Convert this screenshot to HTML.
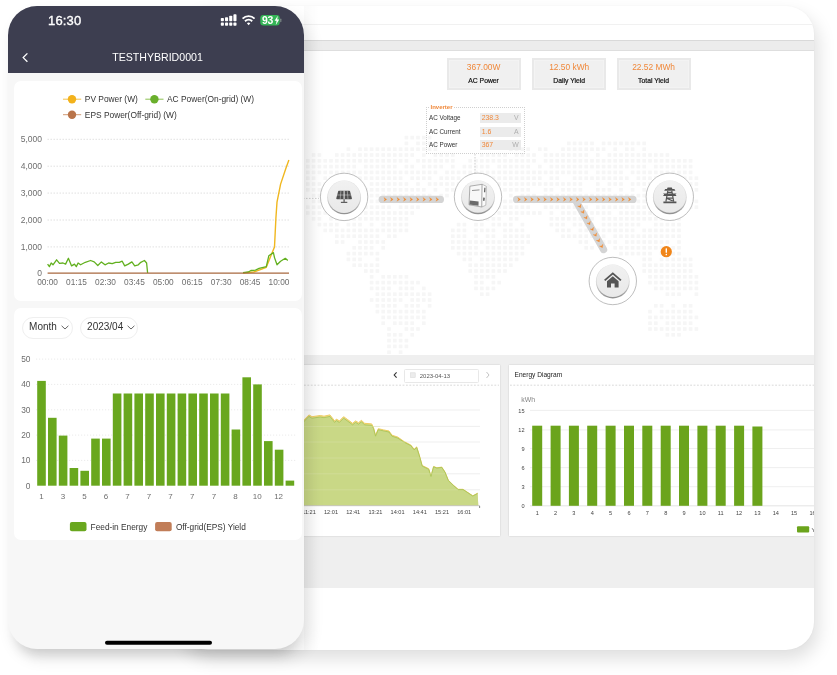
<!DOCTYPE html>
<html><head><meta charset="utf-8"><title>TESTHYBRID0001</title>
<style>
html,body{margin:0;padding:0;background:#fff;}
body{width:837px;height:675px;position:relative;overflow:hidden;font-family:"Liberation Sans",Arial,sans-serif;}
.abs{position:absolute;}
#desk{position:absolute;left:180px;top:6px;width:634px;height:644px;border-radius:28px;background:#fff;box-shadow:4px 9px 18px rgba(0,0,0,.13),0 0 2px rgba(0,0,0,.04);overflow:hidden;}
#desk .in{position:absolute;left:-180px;top:-6px;width:837px;height:675px;}
#phone{position:absolute;left:8px;top:6px;width:296px;height:643px;border-radius:29px;background:#f7f7f7;box-shadow:5px 9px 16px rgba(0,0,0,.11),0 14px 12px -9px rgba(0,0,0,.12);overflow:hidden;}
#phone .in{position:absolute;left:-8px;top:-6px;width:837px;height:675px;}
.card{position:absolute;background:#fff;border-radius:7px;}
.pill{position:absolute;height:20px;border:1px solid #efefef;border-radius:11px;background:#fff;font-size:10px;color:#333;line-height:18.4px;box-sizing:content-box;}
.stat{position:absolute;top:57.5px;width:74px;height:32.3px;background:#f0f0f0;box-shadow:inset 0 0 0 2px #e9e9e9,inset 0 0 0 2.6px #f6f6f6;text-align:center;}
.stat b{display:block;font-weight:normal;color:#f0883a;font-size:8.4px;line-height:9px;margin-top:5.2px;}
.stat span{display:block;color:#111;font-size:6.8px;line-height:8px;margin-top:5.7px;-webkit-text-stroke:0.2px #111;}
.row{position:absolute;left:429px;font-size:6.3px;color:#333;line-height:10px;}
.vb{position:absolute;left:479.5px;width:41px;height:10px;background:#ebebeb;font-size:6px;line-height:10px;color:#f0883a;}
.vb i{position:absolute;right:1.8px;top:0;font-style:normal;color:#aeaeae;font-size:6.9px;}
.vb em{font-style:normal;margin-left:2.2px;font-size:6.9px;}
</style></head><body>

<div id="desk"><div class="in">
  <div class="abs" style="left:0;top:24px;width:837px;height:1px;background:#f1f1f1"></div>
  <div class="abs" style="left:0;top:40px;width:837px;height:11px;background:#ececec;border-top:1.5px solid #d9d9d9;border-bottom:1px solid #dedede;box-sizing:border-box"></div>
  <svg class="abs" style="left:0;top:0" width="837" height="675" viewBox="0 0 837 675"><g fill="#f6f6f6"><rect x="404.6" y="135.8" width="3.6" height="3.6"/><rect x="410.4" y="135.8" width="3.6" height="3.6"/><rect x="416.2" y="135.8" width="3.6" height="3.6"/><rect x="422.0" y="135.8" width="3.6" height="3.6"/><rect x="427.8" y="135.8" width="3.6" height="3.6"/><rect x="404.6" y="141.6" width="3.6" height="3.6"/><rect x="416.2" y="141.6" width="3.6" height="3.6"/><rect x="422.0" y="141.6" width="3.6" height="3.6"/><rect x="427.8" y="141.6" width="3.6" height="3.6"/><rect x="433.6" y="141.6" width="3.6" height="3.6"/><rect x="567.0" y="141.6" width="3.6" height="3.6"/><rect x="572.8" y="141.6" width="3.6" height="3.6"/><rect x="578.6" y="141.6" width="3.6" height="3.6"/><rect x="584.4" y="141.6" width="3.6" height="3.6"/><rect x="590.2" y="141.6" width="3.6" height="3.6"/><rect x="601.8" y="141.6" width="3.6" height="3.6"/><rect x="607.6" y="141.6" width="3.6" height="3.6"/><rect x="613.4" y="141.6" width="3.6" height="3.6"/><rect x="619.2" y="141.6" width="3.6" height="3.6"/><rect x="625.0" y="141.6" width="3.6" height="3.6"/><rect x="630.8" y="141.6" width="3.6" height="3.6"/><rect x="636.6" y="141.6" width="3.6" height="3.6"/><rect x="642.4" y="141.6" width="3.6" height="3.6"/><rect x="346.6" y="147.4" width="3.6" height="3.6"/><rect x="358.2" y="147.4" width="3.6" height="3.6"/><rect x="364.0" y="147.4" width="3.6" height="3.6"/><rect x="369.8" y="147.4" width="3.6" height="3.6"/><rect x="375.6" y="147.4" width="3.6" height="3.6"/><rect x="381.4" y="147.4" width="3.6" height="3.6"/><rect x="387.2" y="147.4" width="3.6" height="3.6"/><rect x="393.0" y="147.4" width="3.6" height="3.6"/><rect x="398.8" y="147.4" width="3.6" height="3.6"/><rect x="404.6" y="147.4" width="3.6" height="3.6"/><rect x="410.4" y="147.4" width="3.6" height="3.6"/><rect x="416.2" y="147.4" width="3.6" height="3.6"/><rect x="422.0" y="147.4" width="3.6" height="3.6"/><rect x="427.8" y="147.4" width="3.6" height="3.6"/><rect x="433.6" y="147.4" width="3.6" height="3.6"/><rect x="509.0" y="147.4" width="3.6" height="3.6"/><rect x="514.8" y="147.4" width="3.6" height="3.6"/><rect x="520.6" y="147.4" width="3.6" height="3.6"/><rect x="526.4" y="147.4" width="3.6" height="3.6"/><rect x="538.0" y="147.4" width="3.6" height="3.6"/><rect x="543.8" y="147.4" width="3.6" height="3.6"/><rect x="561.2" y="147.4" width="3.6" height="3.6"/><rect x="567.0" y="147.4" width="3.6" height="3.6"/><rect x="572.8" y="147.4" width="3.6" height="3.6"/><rect x="578.6" y="147.4" width="3.6" height="3.6"/><rect x="584.4" y="147.4" width="3.6" height="3.6"/><rect x="590.2" y="147.4" width="3.6" height="3.6"/><rect x="596.0" y="147.4" width="3.6" height="3.6"/><rect x="601.8" y="147.4" width="3.6" height="3.6"/><rect x="613.4" y="147.4" width="3.6" height="3.6"/><rect x="625.0" y="147.4" width="3.6" height="3.6"/><rect x="630.8" y="147.4" width="3.6" height="3.6"/><rect x="642.4" y="147.4" width="3.6" height="3.6"/><rect x="311.8" y="153.2" width="3.6" height="3.6"/><rect x="317.6" y="153.2" width="3.6" height="3.6"/><rect x="335.0" y="153.2" width="3.6" height="3.6"/><rect x="340.8" y="153.2" width="3.6" height="3.6"/><rect x="346.6" y="153.2" width="3.6" height="3.6"/><rect x="352.4" y="153.2" width="3.6" height="3.6"/><rect x="358.2" y="153.2" width="3.6" height="3.6"/><rect x="364.0" y="153.2" width="3.6" height="3.6"/><rect x="369.8" y="153.2" width="3.6" height="3.6"/><rect x="375.6" y="153.2" width="3.6" height="3.6"/><rect x="381.4" y="153.2" width="3.6" height="3.6"/><rect x="387.2" y="153.2" width="3.6" height="3.6"/><rect x="393.0" y="153.2" width="3.6" height="3.6"/><rect x="398.8" y="153.2" width="3.6" height="3.6"/><rect x="404.6" y="153.2" width="3.6" height="3.6"/><rect x="410.4" y="153.2" width="3.6" height="3.6"/><rect x="422.0" y="153.2" width="3.6" height="3.6"/><rect x="433.6" y="153.2" width="3.6" height="3.6"/><rect x="439.4" y="153.2" width="3.6" height="3.6"/><rect x="445.2" y="153.2" width="3.6" height="3.6"/><rect x="451.0" y="153.2" width="3.6" height="3.6"/><rect x="480.0" y="153.2" width="3.6" height="3.6"/><rect x="485.8" y="153.2" width="3.6" height="3.6"/><rect x="491.6" y="153.2" width="3.6" height="3.6"/><rect x="497.4" y="153.2" width="3.6" height="3.6"/><rect x="503.2" y="153.2" width="3.6" height="3.6"/><rect x="514.8" y="153.2" width="3.6" height="3.6"/><rect x="520.6" y="153.2" width="3.6" height="3.6"/><rect x="526.4" y="153.2" width="3.6" height="3.6"/><rect x="532.2" y="153.2" width="3.6" height="3.6"/><rect x="543.8" y="153.2" width="3.6" height="3.6"/><rect x="549.6" y="153.2" width="3.6" height="3.6"/><rect x="555.4" y="153.2" width="3.6" height="3.6"/><rect x="561.2" y="153.2" width="3.6" height="3.6"/><rect x="567.0" y="153.2" width="3.6" height="3.6"/><rect x="572.8" y="153.2" width="3.6" height="3.6"/><rect x="578.6" y="153.2" width="3.6" height="3.6"/><rect x="584.4" y="153.2" width="3.6" height="3.6"/><rect x="596.0" y="153.2" width="3.6" height="3.6"/><rect x="607.6" y="153.2" width="3.6" height="3.6"/><rect x="613.4" y="153.2" width="3.6" height="3.6"/><rect x="619.2" y="153.2" width="3.6" height="3.6"/><rect x="625.0" y="153.2" width="3.6" height="3.6"/><rect x="630.8" y="153.2" width="3.6" height="3.6"/><rect x="636.6" y="153.2" width="3.6" height="3.6"/><rect x="642.4" y="153.2" width="3.6" height="3.6"/><rect x="648.2" y="153.2" width="3.6" height="3.6"/><rect x="654.0" y="153.2" width="3.6" height="3.6"/><rect x="659.8" y="153.2" width="3.6" height="3.6"/><rect x="665.6" y="153.2" width="3.6" height="3.6"/><rect x="306.0" y="159.0" width="3.6" height="3.6"/><rect x="311.8" y="159.0" width="3.6" height="3.6"/><rect x="317.6" y="159.0" width="3.6" height="3.6"/><rect x="323.4" y="159.0" width="3.6" height="3.6"/><rect x="329.2" y="159.0" width="3.6" height="3.6"/><rect x="335.0" y="159.0" width="3.6" height="3.6"/><rect x="340.8" y="159.0" width="3.6" height="3.6"/><rect x="346.6" y="159.0" width="3.6" height="3.6"/><rect x="352.4" y="159.0" width="3.6" height="3.6"/><rect x="358.2" y="159.0" width="3.6" height="3.6"/><rect x="364.0" y="159.0" width="3.6" height="3.6"/><rect x="369.8" y="159.0" width="3.6" height="3.6"/><rect x="375.6" y="159.0" width="3.6" height="3.6"/><rect x="381.4" y="159.0" width="3.6" height="3.6"/><rect x="387.2" y="159.0" width="3.6" height="3.6"/><rect x="393.0" y="159.0" width="3.6" height="3.6"/><rect x="398.8" y="159.0" width="3.6" height="3.6"/><rect x="404.6" y="159.0" width="3.6" height="3.6"/><rect x="416.2" y="159.0" width="3.6" height="3.6"/><rect x="422.0" y="159.0" width="3.6" height="3.6"/><rect x="427.8" y="159.0" width="3.6" height="3.6"/><rect x="433.6" y="159.0" width="3.6" height="3.6"/><rect x="439.4" y="159.0" width="3.6" height="3.6"/><rect x="445.2" y="159.0" width="3.6" height="3.6"/><rect x="451.0" y="159.0" width="3.6" height="3.6"/><rect x="468.4" y="159.0" width="3.6" height="3.6"/><rect x="474.2" y="159.0" width="3.6" height="3.6"/><rect x="480.0" y="159.0" width="3.6" height="3.6"/><rect x="485.8" y="159.0" width="3.6" height="3.6"/><rect x="491.6" y="159.0" width="3.6" height="3.6"/><rect x="497.4" y="159.0" width="3.6" height="3.6"/><rect x="503.2" y="159.0" width="3.6" height="3.6"/><rect x="509.0" y="159.0" width="3.6" height="3.6"/><rect x="514.8" y="159.0" width="3.6" height="3.6"/><rect x="520.6" y="159.0" width="3.6" height="3.6"/><rect x="526.4" y="159.0" width="3.6" height="3.6"/><rect x="532.2" y="159.0" width="3.6" height="3.6"/><rect x="543.8" y="159.0" width="3.6" height="3.6"/><rect x="549.6" y="159.0" width="3.6" height="3.6"/><rect x="555.4" y="159.0" width="3.6" height="3.6"/><rect x="561.2" y="159.0" width="3.6" height="3.6"/><rect x="567.0" y="159.0" width="3.6" height="3.6"/><rect x="572.8" y="159.0" width="3.6" height="3.6"/><rect x="578.6" y="159.0" width="3.6" height="3.6"/><rect x="584.4" y="159.0" width="3.6" height="3.6"/><rect x="590.2" y="159.0" width="3.6" height="3.6"/><rect x="596.0" y="159.0" width="3.6" height="3.6"/><rect x="601.8" y="159.0" width="3.6" height="3.6"/><rect x="607.6" y="159.0" width="3.6" height="3.6"/><rect x="613.4" y="159.0" width="3.6" height="3.6"/><rect x="619.2" y="159.0" width="3.6" height="3.6"/><rect x="625.0" y="159.0" width="3.6" height="3.6"/><rect x="630.8" y="159.0" width="3.6" height="3.6"/><rect x="636.6" y="159.0" width="3.6" height="3.6"/><rect x="642.4" y="159.0" width="3.6" height="3.6"/><rect x="648.2" y="159.0" width="3.6" height="3.6"/><rect x="654.0" y="159.0" width="3.6" height="3.6"/><rect x="659.8" y="159.0" width="3.6" height="3.6"/><rect x="665.6" y="159.0" width="3.6" height="3.6"/><rect x="671.4" y="159.0" width="3.6" height="3.6"/><rect x="677.2" y="159.0" width="3.6" height="3.6"/><rect x="683.0" y="159.0" width="3.6" height="3.6"/><rect x="688.8" y="159.0" width="3.6" height="3.6"/><rect x="306.0" y="164.8" width="3.6" height="3.6"/><rect x="311.8" y="164.8" width="3.6" height="3.6"/><rect x="317.6" y="164.8" width="3.6" height="3.6"/><rect x="323.4" y="164.8" width="3.6" height="3.6"/><rect x="329.2" y="164.8" width="3.6" height="3.6"/><rect x="335.0" y="164.8" width="3.6" height="3.6"/><rect x="340.8" y="164.8" width="3.6" height="3.6"/><rect x="346.6" y="164.8" width="3.6" height="3.6"/><rect x="352.4" y="164.8" width="3.6" height="3.6"/><rect x="364.0" y="164.8" width="3.6" height="3.6"/><rect x="369.8" y="164.8" width="3.6" height="3.6"/><rect x="375.6" y="164.8" width="3.6" height="3.6"/><rect x="381.4" y="164.8" width="3.6" height="3.6"/><rect x="387.2" y="164.8" width="3.6" height="3.6"/><rect x="393.0" y="164.8" width="3.6" height="3.6"/><rect x="404.6" y="164.8" width="3.6" height="3.6"/><rect x="410.4" y="164.8" width="3.6" height="3.6"/><rect x="422.0" y="164.8" width="3.6" height="3.6"/><rect x="427.8" y="164.8" width="3.6" height="3.6"/><rect x="433.6" y="164.8" width="3.6" height="3.6"/><rect x="439.4" y="164.8" width="3.6" height="3.6"/><rect x="451.0" y="164.8" width="3.6" height="3.6"/><rect x="462.6" y="164.8" width="3.6" height="3.6"/><rect x="468.4" y="164.8" width="3.6" height="3.6"/><rect x="474.2" y="164.8" width="3.6" height="3.6"/><rect x="480.0" y="164.8" width="3.6" height="3.6"/><rect x="485.8" y="164.8" width="3.6" height="3.6"/><rect x="497.4" y="164.8" width="3.6" height="3.6"/><rect x="503.2" y="164.8" width="3.6" height="3.6"/><rect x="509.0" y="164.8" width="3.6" height="3.6"/><rect x="514.8" y="164.8" width="3.6" height="3.6"/><rect x="520.6" y="164.8" width="3.6" height="3.6"/><rect x="526.4" y="164.8" width="3.6" height="3.6"/><rect x="538.0" y="164.8" width="3.6" height="3.6"/><rect x="549.6" y="164.8" width="3.6" height="3.6"/><rect x="555.4" y="164.8" width="3.6" height="3.6"/><rect x="561.2" y="164.8" width="3.6" height="3.6"/><rect x="567.0" y="164.8" width="3.6" height="3.6"/><rect x="572.8" y="164.8" width="3.6" height="3.6"/><rect x="578.6" y="164.8" width="3.6" height="3.6"/><rect x="584.4" y="164.8" width="3.6" height="3.6"/><rect x="590.2" y="164.8" width="3.6" height="3.6"/><rect x="596.0" y="164.8" width="3.6" height="3.6"/><rect x="601.8" y="164.8" width="3.6" height="3.6"/><rect x="607.6" y="164.8" width="3.6" height="3.6"/><rect x="613.4" y="164.8" width="3.6" height="3.6"/><rect x="619.2" y="164.8" width="3.6" height="3.6"/><rect x="625.0" y="164.8" width="3.6" height="3.6"/><rect x="630.8" y="164.8" width="3.6" height="3.6"/><rect x="636.6" y="164.8" width="3.6" height="3.6"/><rect x="642.4" y="164.8" width="3.6" height="3.6"/><rect x="654.0" y="164.8" width="3.6" height="3.6"/><rect x="659.8" y="164.8" width="3.6" height="3.6"/><rect x="665.6" y="164.8" width="3.6" height="3.6"/><rect x="671.4" y="164.8" width="3.6" height="3.6"/><rect x="677.2" y="164.8" width="3.6" height="3.6"/><rect x="683.0" y="164.8" width="3.6" height="3.6"/><rect x="688.8" y="164.8" width="3.6" height="3.6"/><rect x="306.0" y="170.6" width="3.6" height="3.6"/><rect x="311.8" y="170.6" width="3.6" height="3.6"/><rect x="317.6" y="170.6" width="3.6" height="3.6"/><rect x="323.4" y="170.6" width="3.6" height="3.6"/><rect x="329.2" y="170.6" width="3.6" height="3.6"/><rect x="335.0" y="170.6" width="3.6" height="3.6"/><rect x="340.8" y="170.6" width="3.6" height="3.6"/><rect x="346.6" y="170.6" width="3.6" height="3.6"/><rect x="352.4" y="170.6" width="3.6" height="3.6"/><rect x="358.2" y="170.6" width="3.6" height="3.6"/><rect x="364.0" y="170.6" width="3.6" height="3.6"/><rect x="369.8" y="170.6" width="3.6" height="3.6"/><rect x="375.6" y="170.6" width="3.6" height="3.6"/><rect x="381.4" y="170.6" width="3.6" height="3.6"/><rect x="387.2" y="170.6" width="3.6" height="3.6"/><rect x="393.0" y="170.6" width="3.6" height="3.6"/><rect x="398.8" y="170.6" width="3.6" height="3.6"/><rect x="404.6" y="170.6" width="3.6" height="3.6"/><rect x="410.4" y="170.6" width="3.6" height="3.6"/><rect x="416.2" y="170.6" width="3.6" height="3.6"/><rect x="422.0" y="170.6" width="3.6" height="3.6"/><rect x="427.8" y="170.6" width="3.6" height="3.6"/><rect x="433.6" y="170.6" width="3.6" height="3.6"/><rect x="445.2" y="170.6" width="3.6" height="3.6"/><rect x="451.0" y="170.6" width="3.6" height="3.6"/><rect x="456.8" y="170.6" width="3.6" height="3.6"/><rect x="462.6" y="170.6" width="3.6" height="3.6"/><rect x="468.4" y="170.6" width="3.6" height="3.6"/><rect x="474.2" y="170.6" width="3.6" height="3.6"/><rect x="480.0" y="170.6" width="3.6" height="3.6"/><rect x="485.8" y="170.6" width="3.6" height="3.6"/><rect x="491.6" y="170.6" width="3.6" height="3.6"/><rect x="497.4" y="170.6" width="3.6" height="3.6"/><rect x="503.2" y="170.6" width="3.6" height="3.6"/><rect x="509.0" y="170.6" width="3.6" height="3.6"/><rect x="514.8" y="170.6" width="3.6" height="3.6"/><rect x="520.6" y="170.6" width="3.6" height="3.6"/><rect x="526.4" y="170.6" width="3.6" height="3.6"/><rect x="532.2" y="170.6" width="3.6" height="3.6"/><rect x="538.0" y="170.6" width="3.6" height="3.6"/><rect x="543.8" y="170.6" width="3.6" height="3.6"/><rect x="549.6" y="170.6" width="3.6" height="3.6"/><rect x="555.4" y="170.6" width="3.6" height="3.6"/><rect x="561.2" y="170.6" width="3.6" height="3.6"/><rect x="567.0" y="170.6" width="3.6" height="3.6"/><rect x="572.8" y="170.6" width="3.6" height="3.6"/><rect x="578.6" y="170.6" width="3.6" height="3.6"/><rect x="584.4" y="170.6" width="3.6" height="3.6"/><rect x="596.0" y="170.6" width="3.6" height="3.6"/><rect x="601.8" y="170.6" width="3.6" height="3.6"/><rect x="607.6" y="170.6" width="3.6" height="3.6"/><rect x="613.4" y="170.6" width="3.6" height="3.6"/><rect x="619.2" y="170.6" width="3.6" height="3.6"/><rect x="630.8" y="170.6" width="3.6" height="3.6"/><rect x="636.6" y="170.6" width="3.6" height="3.6"/><rect x="642.4" y="170.6" width="3.6" height="3.6"/><rect x="648.2" y="170.6" width="3.6" height="3.6"/><rect x="654.0" y="170.6" width="3.6" height="3.6"/><rect x="659.8" y="170.6" width="3.6" height="3.6"/><rect x="665.6" y="170.6" width="3.6" height="3.6"/><rect x="671.4" y="170.6" width="3.6" height="3.6"/><rect x="677.2" y="170.6" width="3.6" height="3.6"/><rect x="683.0" y="170.6" width="3.6" height="3.6"/><rect x="688.8" y="170.6" width="3.6" height="3.6"/><rect x="306.0" y="176.4" width="3.6" height="3.6"/><rect x="311.8" y="176.4" width="3.6" height="3.6"/><rect x="323.4" y="176.4" width="3.6" height="3.6"/><rect x="329.2" y="176.4" width="3.6" height="3.6"/><rect x="335.0" y="176.4" width="3.6" height="3.6"/><rect x="340.8" y="176.4" width="3.6" height="3.6"/><rect x="346.6" y="176.4" width="3.6" height="3.6"/><rect x="352.4" y="176.4" width="3.6" height="3.6"/><rect x="358.2" y="176.4" width="3.6" height="3.6"/><rect x="364.0" y="176.4" width="3.6" height="3.6"/><rect x="369.8" y="176.4" width="3.6" height="3.6"/><rect x="375.6" y="176.4" width="3.6" height="3.6"/><rect x="381.4" y="176.4" width="3.6" height="3.6"/><rect x="387.2" y="176.4" width="3.6" height="3.6"/><rect x="393.0" y="176.4" width="3.6" height="3.6"/><rect x="398.8" y="176.4" width="3.6" height="3.6"/><rect x="410.4" y="176.4" width="3.6" height="3.6"/><rect x="416.2" y="176.4" width="3.6" height="3.6"/><rect x="422.0" y="176.4" width="3.6" height="3.6"/><rect x="427.8" y="176.4" width="3.6" height="3.6"/><rect x="439.4" y="176.4" width="3.6" height="3.6"/><rect x="445.2" y="176.4" width="3.6" height="3.6"/><rect x="451.0" y="176.4" width="3.6" height="3.6"/><rect x="456.8" y="176.4" width="3.6" height="3.6"/><rect x="468.4" y="176.4" width="3.6" height="3.6"/><rect x="474.2" y="176.4" width="3.6" height="3.6"/><rect x="480.0" y="176.4" width="3.6" height="3.6"/><rect x="485.8" y="176.4" width="3.6" height="3.6"/><rect x="491.6" y="176.4" width="3.6" height="3.6"/><rect x="497.4" y="176.4" width="3.6" height="3.6"/><rect x="503.2" y="176.4" width="3.6" height="3.6"/><rect x="509.0" y="176.4" width="3.6" height="3.6"/><rect x="514.8" y="176.4" width="3.6" height="3.6"/><rect x="520.6" y="176.4" width="3.6" height="3.6"/><rect x="526.4" y="176.4" width="3.6" height="3.6"/><rect x="532.2" y="176.4" width="3.6" height="3.6"/><rect x="538.0" y="176.4" width="3.6" height="3.6"/><rect x="549.6" y="176.4" width="3.6" height="3.6"/><rect x="555.4" y="176.4" width="3.6" height="3.6"/><rect x="572.8" y="176.4" width="3.6" height="3.6"/><rect x="578.6" y="176.4" width="3.6" height="3.6"/><rect x="584.4" y="176.4" width="3.6" height="3.6"/><rect x="590.2" y="176.4" width="3.6" height="3.6"/><rect x="596.0" y="176.4" width="3.6" height="3.6"/><rect x="601.8" y="176.4" width="3.6" height="3.6"/><rect x="607.6" y="176.4" width="3.6" height="3.6"/><rect x="613.4" y="176.4" width="3.6" height="3.6"/><rect x="619.2" y="176.4" width="3.6" height="3.6"/><rect x="625.0" y="176.4" width="3.6" height="3.6"/><rect x="636.6" y="176.4" width="3.6" height="3.6"/><rect x="642.4" y="176.4" width="3.6" height="3.6"/><rect x="648.2" y="176.4" width="3.6" height="3.6"/><rect x="654.0" y="176.4" width="3.6" height="3.6"/><rect x="659.8" y="176.4" width="3.6" height="3.6"/><rect x="665.6" y="176.4" width="3.6" height="3.6"/><rect x="671.4" y="176.4" width="3.6" height="3.6"/><rect x="677.2" y="176.4" width="3.6" height="3.6"/><rect x="683.0" y="176.4" width="3.6" height="3.6"/><rect x="688.8" y="176.4" width="3.6" height="3.6"/><rect x="694.6" y="176.4" width="3.6" height="3.6"/><rect x="306.0" y="182.2" width="3.6" height="3.6"/><rect x="311.8" y="182.2" width="3.6" height="3.6"/><rect x="317.6" y="182.2" width="3.6" height="3.6"/><rect x="323.4" y="182.2" width="3.6" height="3.6"/><rect x="329.2" y="182.2" width="3.6" height="3.6"/><rect x="335.0" y="182.2" width="3.6" height="3.6"/><rect x="340.8" y="182.2" width="3.6" height="3.6"/><rect x="346.6" y="182.2" width="3.6" height="3.6"/><rect x="358.2" y="182.2" width="3.6" height="3.6"/><rect x="369.8" y="182.2" width="3.6" height="3.6"/><rect x="375.6" y="182.2" width="3.6" height="3.6"/><rect x="381.4" y="182.2" width="3.6" height="3.6"/><rect x="387.2" y="182.2" width="3.6" height="3.6"/><rect x="393.0" y="182.2" width="3.6" height="3.6"/><rect x="398.8" y="182.2" width="3.6" height="3.6"/><rect x="404.6" y="182.2" width="3.6" height="3.6"/><rect x="416.2" y="182.2" width="3.6" height="3.6"/><rect x="427.8" y="182.2" width="3.6" height="3.6"/><rect x="433.6" y="182.2" width="3.6" height="3.6"/><rect x="439.4" y="182.2" width="3.6" height="3.6"/><rect x="445.2" y="182.2" width="3.6" height="3.6"/><rect x="451.0" y="182.2" width="3.6" height="3.6"/><rect x="456.8" y="182.2" width="3.6" height="3.6"/><rect x="462.6" y="182.2" width="3.6" height="3.6"/><rect x="468.4" y="182.2" width="3.6" height="3.6"/><rect x="474.2" y="182.2" width="3.6" height="3.6"/><rect x="480.0" y="182.2" width="3.6" height="3.6"/><rect x="485.8" y="182.2" width="3.6" height="3.6"/><rect x="491.6" y="182.2" width="3.6" height="3.6"/><rect x="497.4" y="182.2" width="3.6" height="3.6"/><rect x="503.2" y="182.2" width="3.6" height="3.6"/><rect x="509.0" y="182.2" width="3.6" height="3.6"/><rect x="514.8" y="182.2" width="3.6" height="3.6"/><rect x="520.6" y="182.2" width="3.6" height="3.6"/><rect x="526.4" y="182.2" width="3.6" height="3.6"/><rect x="532.2" y="182.2" width="3.6" height="3.6"/><rect x="538.0" y="182.2" width="3.6" height="3.6"/><rect x="543.8" y="182.2" width="3.6" height="3.6"/><rect x="549.6" y="182.2" width="3.6" height="3.6"/><rect x="555.4" y="182.2" width="3.6" height="3.6"/><rect x="561.2" y="182.2" width="3.6" height="3.6"/><rect x="567.0" y="182.2" width="3.6" height="3.6"/><rect x="572.8" y="182.2" width="3.6" height="3.6"/><rect x="578.6" y="182.2" width="3.6" height="3.6"/><rect x="596.0" y="182.2" width="3.6" height="3.6"/><rect x="607.6" y="182.2" width="3.6" height="3.6"/><rect x="613.4" y="182.2" width="3.6" height="3.6"/><rect x="619.2" y="182.2" width="3.6" height="3.6"/><rect x="630.8" y="182.2" width="3.6" height="3.6"/><rect x="636.6" y="182.2" width="3.6" height="3.6"/><rect x="642.4" y="182.2" width="3.6" height="3.6"/><rect x="648.2" y="182.2" width="3.6" height="3.6"/><rect x="654.0" y="182.2" width="3.6" height="3.6"/><rect x="665.6" y="182.2" width="3.6" height="3.6"/><rect x="671.4" y="182.2" width="3.6" height="3.6"/><rect x="677.2" y="182.2" width="3.6" height="3.6"/><rect x="683.0" y="182.2" width="3.6" height="3.6"/><rect x="688.8" y="182.2" width="3.6" height="3.6"/><rect x="694.6" y="182.2" width="3.6" height="3.6"/><rect x="306.0" y="188.0" width="3.6" height="3.6"/><rect x="311.8" y="188.0" width="3.6" height="3.6"/><rect x="317.6" y="188.0" width="3.6" height="3.6"/><rect x="323.4" y="188.0" width="3.6" height="3.6"/><rect x="329.2" y="188.0" width="3.6" height="3.6"/><rect x="335.0" y="188.0" width="3.6" height="3.6"/><rect x="346.6" y="188.0" width="3.6" height="3.6"/><rect x="352.4" y="188.0" width="3.6" height="3.6"/><rect x="358.2" y="188.0" width="3.6" height="3.6"/><rect x="364.0" y="188.0" width="3.6" height="3.6"/><rect x="369.8" y="188.0" width="3.6" height="3.6"/><rect x="375.6" y="188.0" width="3.6" height="3.6"/><rect x="381.4" y="188.0" width="3.6" height="3.6"/><rect x="387.2" y="188.0" width="3.6" height="3.6"/><rect x="393.0" y="188.0" width="3.6" height="3.6"/><rect x="398.8" y="188.0" width="3.6" height="3.6"/><rect x="404.6" y="188.0" width="3.6" height="3.6"/><rect x="410.4" y="188.0" width="3.6" height="3.6"/><rect x="416.2" y="188.0" width="3.6" height="3.6"/><rect x="422.0" y="188.0" width="3.6" height="3.6"/><rect x="433.6" y="188.0" width="3.6" height="3.6"/><rect x="445.2" y="188.0" width="3.6" height="3.6"/><rect x="451.0" y="188.0" width="3.6" height="3.6"/><rect x="456.8" y="188.0" width="3.6" height="3.6"/><rect x="462.6" y="188.0" width="3.6" height="3.6"/><rect x="468.4" y="188.0" width="3.6" height="3.6"/><rect x="474.2" y="188.0" width="3.6" height="3.6"/><rect x="480.0" y="188.0" width="3.6" height="3.6"/><rect x="485.8" y="188.0" width="3.6" height="3.6"/><rect x="491.6" y="188.0" width="3.6" height="3.6"/><rect x="497.4" y="188.0" width="3.6" height="3.6"/><rect x="503.2" y="188.0" width="3.6" height="3.6"/><rect x="509.0" y="188.0" width="3.6" height="3.6"/><rect x="514.8" y="188.0" width="3.6" height="3.6"/><rect x="520.6" y="188.0" width="3.6" height="3.6"/><rect x="526.4" y="188.0" width="3.6" height="3.6"/><rect x="543.8" y="188.0" width="3.6" height="3.6"/><rect x="549.6" y="188.0" width="3.6" height="3.6"/><rect x="561.2" y="188.0" width="3.6" height="3.6"/><rect x="567.0" y="188.0" width="3.6" height="3.6"/><rect x="572.8" y="188.0" width="3.6" height="3.6"/><rect x="578.6" y="188.0" width="3.6" height="3.6"/><rect x="596.0" y="188.0" width="3.6" height="3.6"/><rect x="601.8" y="188.0" width="3.6" height="3.6"/><rect x="607.6" y="188.0" width="3.6" height="3.6"/><rect x="619.2" y="188.0" width="3.6" height="3.6"/><rect x="630.8" y="188.0" width="3.6" height="3.6"/><rect x="642.4" y="188.0" width="3.6" height="3.6"/><rect x="648.2" y="188.0" width="3.6" height="3.6"/><rect x="654.0" y="188.0" width="3.6" height="3.6"/><rect x="671.4" y="188.0" width="3.6" height="3.6"/><rect x="677.2" y="188.0" width="3.6" height="3.6"/><rect x="683.0" y="188.0" width="3.6" height="3.6"/><rect x="688.8" y="188.0" width="3.6" height="3.6"/><rect x="694.6" y="188.0" width="3.6" height="3.6"/><rect x="311.8" y="193.8" width="3.6" height="3.6"/><rect x="317.6" y="193.8" width="3.6" height="3.6"/><rect x="323.4" y="193.8" width="3.6" height="3.6"/><rect x="329.2" y="193.8" width="3.6" height="3.6"/><rect x="335.0" y="193.8" width="3.6" height="3.6"/><rect x="340.8" y="193.8" width="3.6" height="3.6"/><rect x="346.6" y="193.8" width="3.6" height="3.6"/><rect x="358.2" y="193.8" width="3.6" height="3.6"/><rect x="364.0" y="193.8" width="3.6" height="3.6"/><rect x="369.8" y="193.8" width="3.6" height="3.6"/><rect x="375.6" y="193.8" width="3.6" height="3.6"/><rect x="381.4" y="193.8" width="3.6" height="3.6"/><rect x="387.2" y="193.8" width="3.6" height="3.6"/><rect x="393.0" y="193.8" width="3.6" height="3.6"/><rect x="398.8" y="193.8" width="3.6" height="3.6"/><rect x="404.6" y="193.8" width="3.6" height="3.6"/><rect x="410.4" y="193.8" width="3.6" height="3.6"/><rect x="416.2" y="193.8" width="3.6" height="3.6"/><rect x="422.0" y="193.8" width="3.6" height="3.6"/><rect x="427.8" y="193.8" width="3.6" height="3.6"/><rect x="439.4" y="193.8" width="3.6" height="3.6"/><rect x="445.2" y="193.8" width="3.6" height="3.6"/><rect x="456.8" y="193.8" width="3.6" height="3.6"/><rect x="462.6" y="193.8" width="3.6" height="3.6"/><rect x="474.2" y="193.8" width="3.6" height="3.6"/><rect x="485.8" y="193.8" width="3.6" height="3.6"/><rect x="491.6" y="193.8" width="3.6" height="3.6"/><rect x="497.4" y="193.8" width="3.6" height="3.6"/><rect x="509.0" y="193.8" width="3.6" height="3.6"/><rect x="520.6" y="193.8" width="3.6" height="3.6"/><rect x="526.4" y="193.8" width="3.6" height="3.6"/><rect x="532.2" y="193.8" width="3.6" height="3.6"/><rect x="543.8" y="193.8" width="3.6" height="3.6"/><rect x="549.6" y="193.8" width="3.6" height="3.6"/><rect x="555.4" y="193.8" width="3.6" height="3.6"/><rect x="561.2" y="193.8" width="3.6" height="3.6"/><rect x="567.0" y="193.8" width="3.6" height="3.6"/><rect x="572.8" y="193.8" width="3.6" height="3.6"/><rect x="578.6" y="193.8" width="3.6" height="3.6"/><rect x="584.4" y="193.8" width="3.6" height="3.6"/><rect x="590.2" y="193.8" width="3.6" height="3.6"/><rect x="596.0" y="193.8" width="3.6" height="3.6"/><rect x="601.8" y="193.8" width="3.6" height="3.6"/><rect x="607.6" y="193.8" width="3.6" height="3.6"/><rect x="613.4" y="193.8" width="3.6" height="3.6"/><rect x="619.2" y="193.8" width="3.6" height="3.6"/><rect x="625.0" y="193.8" width="3.6" height="3.6"/><rect x="630.8" y="193.8" width="3.6" height="3.6"/><rect x="636.6" y="193.8" width="3.6" height="3.6"/><rect x="642.4" y="193.8" width="3.6" height="3.6"/><rect x="654.0" y="193.8" width="3.6" height="3.6"/><rect x="659.8" y="193.8" width="3.6" height="3.6"/><rect x="665.6" y="193.8" width="3.6" height="3.6"/><rect x="671.4" y="193.8" width="3.6" height="3.6"/><rect x="683.0" y="193.8" width="3.6" height="3.6"/><rect x="688.8" y="193.8" width="3.6" height="3.6"/><rect x="311.8" y="199.6" width="3.6" height="3.6"/><rect x="317.6" y="199.6" width="3.6" height="3.6"/><rect x="323.4" y="199.6" width="3.6" height="3.6"/><rect x="329.2" y="199.6" width="3.6" height="3.6"/><rect x="335.0" y="199.6" width="3.6" height="3.6"/><rect x="340.8" y="199.6" width="3.6" height="3.6"/><rect x="346.6" y="199.6" width="3.6" height="3.6"/><rect x="352.4" y="199.6" width="3.6" height="3.6"/><rect x="358.2" y="199.6" width="3.6" height="3.6"/><rect x="369.8" y="199.6" width="3.6" height="3.6"/><rect x="375.6" y="199.6" width="3.6" height="3.6"/><rect x="381.4" y="199.6" width="3.6" height="3.6"/><rect x="393.0" y="199.6" width="3.6" height="3.6"/><rect x="398.8" y="199.6" width="3.6" height="3.6"/><rect x="404.6" y="199.6" width="3.6" height="3.6"/><rect x="410.4" y="199.6" width="3.6" height="3.6"/><rect x="416.2" y="199.6" width="3.6" height="3.6"/><rect x="422.0" y="199.6" width="3.6" height="3.6"/><rect x="456.8" y="199.6" width="3.6" height="3.6"/><rect x="462.6" y="199.6" width="3.6" height="3.6"/><rect x="468.4" y="199.6" width="3.6" height="3.6"/><rect x="474.2" y="199.6" width="3.6" height="3.6"/><rect x="480.0" y="199.6" width="3.6" height="3.6"/><rect x="485.8" y="199.6" width="3.6" height="3.6"/><rect x="491.6" y="199.6" width="3.6" height="3.6"/><rect x="497.4" y="199.6" width="3.6" height="3.6"/><rect x="503.2" y="199.6" width="3.6" height="3.6"/><rect x="509.0" y="199.6" width="3.6" height="3.6"/><rect x="514.8" y="199.6" width="3.6" height="3.6"/><rect x="520.6" y="199.6" width="3.6" height="3.6"/><rect x="526.4" y="199.6" width="3.6" height="3.6"/><rect x="532.2" y="199.6" width="3.6" height="3.6"/><rect x="543.8" y="199.6" width="3.6" height="3.6"/><rect x="555.4" y="199.6" width="3.6" height="3.6"/><rect x="561.2" y="199.6" width="3.6" height="3.6"/><rect x="567.0" y="199.6" width="3.6" height="3.6"/><rect x="572.8" y="199.6" width="3.6" height="3.6"/><rect x="578.6" y="199.6" width="3.6" height="3.6"/><rect x="584.4" y="199.6" width="3.6" height="3.6"/><rect x="590.2" y="199.6" width="3.6" height="3.6"/><rect x="596.0" y="199.6" width="3.6" height="3.6"/><rect x="601.8" y="199.6" width="3.6" height="3.6"/><rect x="607.6" y="199.6" width="3.6" height="3.6"/><rect x="613.4" y="199.6" width="3.6" height="3.6"/><rect x="619.2" y="199.6" width="3.6" height="3.6"/><rect x="625.0" y="199.6" width="3.6" height="3.6"/><rect x="630.8" y="199.6" width="3.6" height="3.6"/><rect x="636.6" y="199.6" width="3.6" height="3.6"/><rect x="642.4" y="199.6" width="3.6" height="3.6"/><rect x="648.2" y="199.6" width="3.6" height="3.6"/><rect x="654.0" y="199.6" width="3.6" height="3.6"/><rect x="659.8" y="199.6" width="3.6" height="3.6"/><rect x="665.6" y="199.6" width="3.6" height="3.6"/><rect x="671.4" y="199.6" width="3.6" height="3.6"/><rect x="683.0" y="199.6" width="3.6" height="3.6"/><rect x="694.6" y="199.6" width="3.6" height="3.6"/><rect x="306.0" y="205.4" width="3.6" height="3.6"/><rect x="311.8" y="205.4" width="3.6" height="3.6"/><rect x="317.6" y="205.4" width="3.6" height="3.6"/><rect x="323.4" y="205.4" width="3.6" height="3.6"/><rect x="329.2" y="205.4" width="3.6" height="3.6"/><rect x="335.0" y="205.4" width="3.6" height="3.6"/><rect x="340.8" y="205.4" width="3.6" height="3.6"/><rect x="346.6" y="205.4" width="3.6" height="3.6"/><rect x="352.4" y="205.4" width="3.6" height="3.6"/><rect x="364.0" y="205.4" width="3.6" height="3.6"/><rect x="369.8" y="205.4" width="3.6" height="3.6"/><rect x="375.6" y="205.4" width="3.6" height="3.6"/><rect x="381.4" y="205.4" width="3.6" height="3.6"/><rect x="387.2" y="205.4" width="3.6" height="3.6"/><rect x="398.8" y="205.4" width="3.6" height="3.6"/><rect x="404.6" y="205.4" width="3.6" height="3.6"/><rect x="410.4" y="205.4" width="3.6" height="3.6"/><rect x="416.2" y="205.4" width="3.6" height="3.6"/><rect x="456.8" y="205.4" width="3.6" height="3.6"/><rect x="462.6" y="205.4" width="3.6" height="3.6"/><rect x="468.4" y="205.4" width="3.6" height="3.6"/><rect x="474.2" y="205.4" width="3.6" height="3.6"/><rect x="480.0" y="205.4" width="3.6" height="3.6"/><rect x="485.8" y="205.4" width="3.6" height="3.6"/><rect x="491.6" y="205.4" width="3.6" height="3.6"/><rect x="497.4" y="205.4" width="3.6" height="3.6"/><rect x="503.2" y="205.4" width="3.6" height="3.6"/><rect x="509.0" y="205.4" width="3.6" height="3.6"/><rect x="514.8" y="205.4" width="3.6" height="3.6"/><rect x="520.6" y="205.4" width="3.6" height="3.6"/><rect x="526.4" y="205.4" width="3.6" height="3.6"/><rect x="543.8" y="205.4" width="3.6" height="3.6"/><rect x="549.6" y="205.4" width="3.6" height="3.6"/><rect x="555.4" y="205.4" width="3.6" height="3.6"/><rect x="561.2" y="205.4" width="3.6" height="3.6"/><rect x="567.0" y="205.4" width="3.6" height="3.6"/><rect x="572.8" y="205.4" width="3.6" height="3.6"/><rect x="578.6" y="205.4" width="3.6" height="3.6"/><rect x="584.4" y="205.4" width="3.6" height="3.6"/><rect x="596.0" y="205.4" width="3.6" height="3.6"/><rect x="601.8" y="205.4" width="3.6" height="3.6"/><rect x="607.6" y="205.4" width="3.6" height="3.6"/><rect x="613.4" y="205.4" width="3.6" height="3.6"/><rect x="619.2" y="205.4" width="3.6" height="3.6"/><rect x="625.0" y="205.4" width="3.6" height="3.6"/><rect x="630.8" y="205.4" width="3.6" height="3.6"/><rect x="636.6" y="205.4" width="3.6" height="3.6"/><rect x="642.4" y="205.4" width="3.6" height="3.6"/><rect x="648.2" y="205.4" width="3.6" height="3.6"/><rect x="654.0" y="205.4" width="3.6" height="3.6"/><rect x="659.8" y="205.4" width="3.6" height="3.6"/><rect x="665.6" y="205.4" width="3.6" height="3.6"/><rect x="671.4" y="205.4" width="3.6" height="3.6"/><rect x="677.2" y="205.4" width="3.6" height="3.6"/><rect x="688.8" y="205.4" width="3.6" height="3.6"/><rect x="694.6" y="205.4" width="3.6" height="3.6"/><rect x="306.0" y="211.2" width="3.6" height="3.6"/><rect x="311.8" y="211.2" width="3.6" height="3.6"/><rect x="317.6" y="211.2" width="3.6" height="3.6"/><rect x="323.4" y="211.2" width="3.6" height="3.6"/><rect x="329.2" y="211.2" width="3.6" height="3.6"/><rect x="335.0" y="211.2" width="3.6" height="3.6"/><rect x="340.8" y="211.2" width="3.6" height="3.6"/><rect x="346.6" y="211.2" width="3.6" height="3.6"/><rect x="352.4" y="211.2" width="3.6" height="3.6"/><rect x="358.2" y="211.2" width="3.6" height="3.6"/><rect x="364.0" y="211.2" width="3.6" height="3.6"/><rect x="369.8" y="211.2" width="3.6" height="3.6"/><rect x="375.6" y="211.2" width="3.6" height="3.6"/><rect x="381.4" y="211.2" width="3.6" height="3.6"/><rect x="387.2" y="211.2" width="3.6" height="3.6"/><rect x="393.0" y="211.2" width="3.6" height="3.6"/><rect x="398.8" y="211.2" width="3.6" height="3.6"/><rect x="404.6" y="211.2" width="3.6" height="3.6"/><rect x="410.4" y="211.2" width="3.6" height="3.6"/><rect x="462.6" y="211.2" width="3.6" height="3.6"/><rect x="474.2" y="211.2" width="3.6" height="3.6"/><rect x="480.0" y="211.2" width="3.6" height="3.6"/><rect x="485.8" y="211.2" width="3.6" height="3.6"/><rect x="491.6" y="211.2" width="3.6" height="3.6"/><rect x="497.4" y="211.2" width="3.6" height="3.6"/><rect x="503.2" y="211.2" width="3.6" height="3.6"/><rect x="509.0" y="211.2" width="3.6" height="3.6"/><rect x="514.8" y="211.2" width="3.6" height="3.6"/><rect x="520.6" y="211.2" width="3.6" height="3.6"/><rect x="526.4" y="211.2" width="3.6" height="3.6"/><rect x="532.2" y="211.2" width="3.6" height="3.6"/><rect x="538.0" y="211.2" width="3.6" height="3.6"/><rect x="549.6" y="211.2" width="3.6" height="3.6"/><rect x="561.2" y="211.2" width="3.6" height="3.6"/><rect x="567.0" y="211.2" width="3.6" height="3.6"/><rect x="572.8" y="211.2" width="3.6" height="3.6"/><rect x="578.6" y="211.2" width="3.6" height="3.6"/><rect x="584.4" y="211.2" width="3.6" height="3.6"/><rect x="590.2" y="211.2" width="3.6" height="3.6"/><rect x="596.0" y="211.2" width="3.6" height="3.6"/><rect x="601.8" y="211.2" width="3.6" height="3.6"/><rect x="607.6" y="211.2" width="3.6" height="3.6"/><rect x="619.2" y="211.2" width="3.6" height="3.6"/><rect x="625.0" y="211.2" width="3.6" height="3.6"/><rect x="630.8" y="211.2" width="3.6" height="3.6"/><rect x="636.6" y="211.2" width="3.6" height="3.6"/><rect x="642.4" y="211.2" width="3.6" height="3.6"/><rect x="648.2" y="211.2" width="3.6" height="3.6"/><rect x="654.0" y="211.2" width="3.6" height="3.6"/><rect x="659.8" y="211.2" width="3.6" height="3.6"/><rect x="665.6" y="211.2" width="3.6" height="3.6"/><rect x="671.4" y="211.2" width="3.6" height="3.6"/><rect x="677.2" y="211.2" width="3.6" height="3.6"/><rect x="683.0" y="211.2" width="3.6" height="3.6"/><rect x="311.8" y="217.0" width="3.6" height="3.6"/><rect x="317.6" y="217.0" width="3.6" height="3.6"/><rect x="329.2" y="217.0" width="3.6" height="3.6"/><rect x="335.0" y="217.0" width="3.6" height="3.6"/><rect x="340.8" y="217.0" width="3.6" height="3.6"/><rect x="346.6" y="217.0" width="3.6" height="3.6"/><rect x="352.4" y="217.0" width="3.6" height="3.6"/><rect x="358.2" y="217.0" width="3.6" height="3.6"/><rect x="364.0" y="217.0" width="3.6" height="3.6"/><rect x="369.8" y="217.0" width="3.6" height="3.6"/><rect x="375.6" y="217.0" width="3.6" height="3.6"/><rect x="381.4" y="217.0" width="3.6" height="3.6"/><rect x="387.2" y="217.0" width="3.6" height="3.6"/><rect x="393.0" y="217.0" width="3.6" height="3.6"/><rect x="398.8" y="217.0" width="3.6" height="3.6"/><rect x="404.6" y="217.0" width="3.6" height="3.6"/><rect x="474.2" y="217.0" width="3.6" height="3.6"/><rect x="480.0" y="217.0" width="3.6" height="3.6"/><rect x="485.8" y="217.0" width="3.6" height="3.6"/><rect x="491.6" y="217.0" width="3.6" height="3.6"/><rect x="497.4" y="217.0" width="3.6" height="3.6"/><rect x="509.0" y="217.0" width="3.6" height="3.6"/><rect x="514.8" y="217.0" width="3.6" height="3.6"/><rect x="549.6" y="217.0" width="3.6" height="3.6"/><rect x="555.4" y="217.0" width="3.6" height="3.6"/><rect x="561.2" y="217.0" width="3.6" height="3.6"/><rect x="567.0" y="217.0" width="3.6" height="3.6"/><rect x="572.8" y="217.0" width="3.6" height="3.6"/><rect x="578.6" y="217.0" width="3.6" height="3.6"/><rect x="584.4" y="217.0" width="3.6" height="3.6"/><rect x="590.2" y="217.0" width="3.6" height="3.6"/><rect x="601.8" y="217.0" width="3.6" height="3.6"/><rect x="607.6" y="217.0" width="3.6" height="3.6"/><rect x="613.4" y="217.0" width="3.6" height="3.6"/><rect x="619.2" y="217.0" width="3.6" height="3.6"/><rect x="625.0" y="217.0" width="3.6" height="3.6"/><rect x="630.8" y="217.0" width="3.6" height="3.6"/><rect x="636.6" y="217.0" width="3.6" height="3.6"/><rect x="642.4" y="217.0" width="3.6" height="3.6"/><rect x="648.2" y="217.0" width="3.6" height="3.6"/><rect x="654.0" y="217.0" width="3.6" height="3.6"/><rect x="659.8" y="217.0" width="3.6" height="3.6"/><rect x="665.6" y="217.0" width="3.6" height="3.6"/><rect x="671.4" y="217.0" width="3.6" height="3.6"/><rect x="677.2" y="217.0" width="3.6" height="3.6"/><rect x="317.6" y="222.8" width="3.6" height="3.6"/><rect x="323.4" y="222.8" width="3.6" height="3.6"/><rect x="329.2" y="222.8" width="3.6" height="3.6"/><rect x="335.0" y="222.8" width="3.6" height="3.6"/><rect x="346.6" y="222.8" width="3.6" height="3.6"/><rect x="352.4" y="222.8" width="3.6" height="3.6"/><rect x="358.2" y="222.8" width="3.6" height="3.6"/><rect x="369.8" y="222.8" width="3.6" height="3.6"/><rect x="381.4" y="222.8" width="3.6" height="3.6"/><rect x="387.2" y="222.8" width="3.6" height="3.6"/><rect x="393.0" y="222.8" width="3.6" height="3.6"/><rect x="398.8" y="222.8" width="3.6" height="3.6"/><rect x="404.6" y="222.8" width="3.6" height="3.6"/><rect x="456.8" y="222.8" width="3.6" height="3.6"/><rect x="462.6" y="222.8" width="3.6" height="3.6"/><rect x="474.2" y="222.8" width="3.6" height="3.6"/><rect x="480.0" y="222.8" width="3.6" height="3.6"/><rect x="491.6" y="222.8" width="3.6" height="3.6"/><rect x="497.4" y="222.8" width="3.6" height="3.6"/><rect x="503.2" y="222.8" width="3.6" height="3.6"/><rect x="509.0" y="222.8" width="3.6" height="3.6"/><rect x="520.6" y="222.8" width="3.6" height="3.6"/><rect x="549.6" y="222.8" width="3.6" height="3.6"/><rect x="555.4" y="222.8" width="3.6" height="3.6"/><rect x="561.2" y="222.8" width="3.6" height="3.6"/><rect x="572.8" y="222.8" width="3.6" height="3.6"/><rect x="578.6" y="222.8" width="3.6" height="3.6"/><rect x="584.4" y="222.8" width="3.6" height="3.6"/><rect x="590.2" y="222.8" width="3.6" height="3.6"/><rect x="601.8" y="222.8" width="3.6" height="3.6"/><rect x="607.6" y="222.8" width="3.6" height="3.6"/><rect x="613.4" y="222.8" width="3.6" height="3.6"/><rect x="619.2" y="222.8" width="3.6" height="3.6"/><rect x="625.0" y="222.8" width="3.6" height="3.6"/><rect x="630.8" y="222.8" width="3.6" height="3.6"/><rect x="636.6" y="222.8" width="3.6" height="3.6"/><rect x="654.0" y="222.8" width="3.6" height="3.6"/><rect x="659.8" y="222.8" width="3.6" height="3.6"/><rect x="665.6" y="222.8" width="3.6" height="3.6"/><rect x="671.4" y="222.8" width="3.6" height="3.6"/><rect x="677.2" y="222.8" width="3.6" height="3.6"/><rect x="323.4" y="228.6" width="3.6" height="3.6"/><rect x="329.2" y="228.6" width="3.6" height="3.6"/><rect x="335.0" y="228.6" width="3.6" height="3.6"/><rect x="340.8" y="228.6" width="3.6" height="3.6"/><rect x="346.6" y="228.6" width="3.6" height="3.6"/><rect x="352.4" y="228.6" width="3.6" height="3.6"/><rect x="358.2" y="228.6" width="3.6" height="3.6"/><rect x="364.0" y="228.6" width="3.6" height="3.6"/><rect x="369.8" y="228.6" width="3.6" height="3.6"/><rect x="375.6" y="228.6" width="3.6" height="3.6"/><rect x="381.4" y="228.6" width="3.6" height="3.6"/><rect x="387.2" y="228.6" width="3.6" height="3.6"/><rect x="393.0" y="228.6" width="3.6" height="3.6"/><rect x="398.8" y="228.6" width="3.6" height="3.6"/><rect x="404.6" y="228.6" width="3.6" height="3.6"/><rect x="451.0" y="228.6" width="3.6" height="3.6"/><rect x="456.8" y="228.6" width="3.6" height="3.6"/><rect x="462.6" y="228.6" width="3.6" height="3.6"/><rect x="474.2" y="228.6" width="3.6" height="3.6"/><rect x="480.0" y="228.6" width="3.6" height="3.6"/><rect x="485.8" y="228.6" width="3.6" height="3.6"/><rect x="491.6" y="228.6" width="3.6" height="3.6"/><rect x="503.2" y="228.6" width="3.6" height="3.6"/><rect x="509.0" y="228.6" width="3.6" height="3.6"/><rect x="514.8" y="228.6" width="3.6" height="3.6"/><rect x="520.6" y="228.6" width="3.6" height="3.6"/><rect x="555.4" y="228.6" width="3.6" height="3.6"/><rect x="561.2" y="228.6" width="3.6" height="3.6"/><rect x="567.0" y="228.6" width="3.6" height="3.6"/><rect x="578.6" y="228.6" width="3.6" height="3.6"/><rect x="584.4" y="228.6" width="3.6" height="3.6"/><rect x="590.2" y="228.6" width="3.6" height="3.6"/><rect x="596.0" y="228.6" width="3.6" height="3.6"/><rect x="601.8" y="228.6" width="3.6" height="3.6"/><rect x="607.6" y="228.6" width="3.6" height="3.6"/><rect x="613.4" y="228.6" width="3.6" height="3.6"/><rect x="619.2" y="228.6" width="3.6" height="3.6"/><rect x="625.0" y="228.6" width="3.6" height="3.6"/><rect x="630.8" y="228.6" width="3.6" height="3.6"/><rect x="642.4" y="228.6" width="3.6" height="3.6"/><rect x="648.2" y="228.6" width="3.6" height="3.6"/><rect x="654.0" y="228.6" width="3.6" height="3.6"/><rect x="659.8" y="228.6" width="3.6" height="3.6"/><rect x="665.6" y="228.6" width="3.6" height="3.6"/><rect x="671.4" y="228.6" width="3.6" height="3.6"/><rect x="677.2" y="228.6" width="3.6" height="3.6"/><rect x="335.0" y="234.4" width="3.6" height="3.6"/><rect x="340.8" y="234.4" width="3.6" height="3.6"/><rect x="346.6" y="234.4" width="3.6" height="3.6"/><rect x="352.4" y="234.4" width="3.6" height="3.6"/><rect x="358.2" y="234.4" width="3.6" height="3.6"/><rect x="364.0" y="234.4" width="3.6" height="3.6"/><rect x="369.8" y="234.4" width="3.6" height="3.6"/><rect x="375.6" y="234.4" width="3.6" height="3.6"/><rect x="387.2" y="234.4" width="3.6" height="3.6"/><rect x="393.0" y="234.4" width="3.6" height="3.6"/><rect x="451.0" y="234.4" width="3.6" height="3.6"/><rect x="456.8" y="234.4" width="3.6" height="3.6"/><rect x="462.6" y="234.4" width="3.6" height="3.6"/><rect x="474.2" y="234.4" width="3.6" height="3.6"/><rect x="485.8" y="234.4" width="3.6" height="3.6"/><rect x="491.6" y="234.4" width="3.6" height="3.6"/><rect x="503.2" y="234.4" width="3.6" height="3.6"/><rect x="509.0" y="234.4" width="3.6" height="3.6"/><rect x="514.8" y="234.4" width="3.6" height="3.6"/><rect x="520.6" y="234.4" width="3.6" height="3.6"/><rect x="526.4" y="234.4" width="3.6" height="3.6"/><rect x="561.2" y="234.4" width="3.6" height="3.6"/><rect x="567.0" y="234.4" width="3.6" height="3.6"/><rect x="572.8" y="234.4" width="3.6" height="3.6"/><rect x="578.6" y="234.4" width="3.6" height="3.6"/><rect x="584.4" y="234.4" width="3.6" height="3.6"/><rect x="590.2" y="234.4" width="3.6" height="3.6"/><rect x="596.0" y="234.4" width="3.6" height="3.6"/><rect x="601.8" y="234.4" width="3.6" height="3.6"/><rect x="613.4" y="234.4" width="3.6" height="3.6"/><rect x="619.2" y="234.4" width="3.6" height="3.6"/><rect x="625.0" y="234.4" width="3.6" height="3.6"/><rect x="630.8" y="234.4" width="3.6" height="3.6"/><rect x="636.6" y="234.4" width="3.6" height="3.6"/><rect x="642.4" y="234.4" width="3.6" height="3.6"/><rect x="648.2" y="234.4" width="3.6" height="3.6"/><rect x="654.0" y="234.4" width="3.6" height="3.6"/><rect x="659.8" y="234.4" width="3.6" height="3.6"/><rect x="665.6" y="234.4" width="3.6" height="3.6"/><rect x="671.4" y="234.4" width="3.6" height="3.6"/><rect x="677.2" y="234.4" width="3.6" height="3.6"/><rect x="335.0" y="240.2" width="3.6" height="3.6"/><rect x="340.8" y="240.2" width="3.6" height="3.6"/><rect x="358.2" y="240.2" width="3.6" height="3.6"/><rect x="364.0" y="240.2" width="3.6" height="3.6"/><rect x="369.8" y="240.2" width="3.6" height="3.6"/><rect x="375.6" y="240.2" width="3.6" height="3.6"/><rect x="381.4" y="240.2" width="3.6" height="3.6"/><rect x="451.0" y="240.2" width="3.6" height="3.6"/><rect x="456.8" y="240.2" width="3.6" height="3.6"/><rect x="462.6" y="240.2" width="3.6" height="3.6"/><rect x="468.4" y="240.2" width="3.6" height="3.6"/><rect x="474.2" y="240.2" width="3.6" height="3.6"/><rect x="480.0" y="240.2" width="3.6" height="3.6"/><rect x="485.8" y="240.2" width="3.6" height="3.6"/><rect x="491.6" y="240.2" width="3.6" height="3.6"/><rect x="497.4" y="240.2" width="3.6" height="3.6"/><rect x="503.2" y="240.2" width="3.6" height="3.6"/><rect x="509.0" y="240.2" width="3.6" height="3.6"/><rect x="514.8" y="240.2" width="3.6" height="3.6"/><rect x="520.6" y="240.2" width="3.6" height="3.6"/><rect x="526.4" y="240.2" width="3.6" height="3.6"/><rect x="578.6" y="240.2" width="3.6" height="3.6"/><rect x="584.4" y="240.2" width="3.6" height="3.6"/><rect x="601.8" y="240.2" width="3.6" height="3.6"/><rect x="607.6" y="240.2" width="3.6" height="3.6"/><rect x="613.4" y="240.2" width="3.6" height="3.6"/><rect x="625.0" y="240.2" width="3.6" height="3.6"/><rect x="630.8" y="240.2" width="3.6" height="3.6"/><rect x="636.6" y="240.2" width="3.6" height="3.6"/><rect x="642.4" y="240.2" width="3.6" height="3.6"/><rect x="648.2" y="240.2" width="3.6" height="3.6"/><rect x="654.0" y="240.2" width="3.6" height="3.6"/><rect x="659.8" y="240.2" width="3.6" height="3.6"/><rect x="665.6" y="240.2" width="3.6" height="3.6"/><rect x="677.2" y="240.2" width="3.6" height="3.6"/><rect x="352.4" y="246.0" width="3.6" height="3.6"/><rect x="358.2" y="246.0" width="3.6" height="3.6"/><rect x="364.0" y="246.0" width="3.6" height="3.6"/><rect x="369.8" y="246.0" width="3.6" height="3.6"/><rect x="381.4" y="246.0" width="3.6" height="3.6"/><rect x="451.0" y="246.0" width="3.6" height="3.6"/><rect x="456.8" y="246.0" width="3.6" height="3.6"/><rect x="462.6" y="246.0" width="3.6" height="3.6"/><rect x="468.4" y="246.0" width="3.6" height="3.6"/><rect x="474.2" y="246.0" width="3.6" height="3.6"/><rect x="485.8" y="246.0" width="3.6" height="3.6"/><rect x="491.6" y="246.0" width="3.6" height="3.6"/><rect x="497.4" y="246.0" width="3.6" height="3.6"/><rect x="503.2" y="246.0" width="3.6" height="3.6"/><rect x="509.0" y="246.0" width="3.6" height="3.6"/><rect x="514.8" y="246.0" width="3.6" height="3.6"/><rect x="520.6" y="246.0" width="3.6" height="3.6"/><rect x="584.4" y="246.0" width="3.6" height="3.6"/><rect x="590.2" y="246.0" width="3.6" height="3.6"/><rect x="601.8" y="246.0" width="3.6" height="3.6"/><rect x="613.4" y="246.0" width="3.6" height="3.6"/><rect x="619.2" y="246.0" width="3.6" height="3.6"/><rect x="625.0" y="246.0" width="3.6" height="3.6"/><rect x="630.8" y="246.0" width="3.6" height="3.6"/><rect x="636.6" y="246.0" width="3.6" height="3.6"/><rect x="642.4" y="246.0" width="3.6" height="3.6"/><rect x="648.2" y="246.0" width="3.6" height="3.6"/><rect x="654.0" y="246.0" width="3.6" height="3.6"/><rect x="659.8" y="246.0" width="3.6" height="3.6"/><rect x="665.6" y="246.0" width="3.6" height="3.6"/><rect x="671.4" y="246.0" width="3.6" height="3.6"/><rect x="677.2" y="246.0" width="3.6" height="3.6"/><rect x="346.6" y="251.8" width="3.6" height="3.6"/><rect x="352.4" y="251.8" width="3.6" height="3.6"/><rect x="358.2" y="251.8" width="3.6" height="3.6"/><rect x="364.0" y="251.8" width="3.6" height="3.6"/><rect x="369.8" y="251.8" width="3.6" height="3.6"/><rect x="375.6" y="251.8" width="3.6" height="3.6"/><rect x="456.8" y="251.8" width="3.6" height="3.6"/><rect x="462.6" y="251.8" width="3.6" height="3.6"/><rect x="468.4" y="251.8" width="3.6" height="3.6"/><rect x="474.2" y="251.8" width="3.6" height="3.6"/><rect x="480.0" y="251.8" width="3.6" height="3.6"/><rect x="485.8" y="251.8" width="3.6" height="3.6"/><rect x="491.6" y="251.8" width="3.6" height="3.6"/><rect x="497.4" y="251.8" width="3.6" height="3.6"/><rect x="503.2" y="251.8" width="3.6" height="3.6"/><rect x="509.0" y="251.8" width="3.6" height="3.6"/><rect x="514.8" y="251.8" width="3.6" height="3.6"/><rect x="520.6" y="251.8" width="3.6" height="3.6"/><rect x="619.2" y="251.8" width="3.6" height="3.6"/><rect x="625.0" y="251.8" width="3.6" height="3.6"/><rect x="630.8" y="251.8" width="3.6" height="3.6"/><rect x="636.6" y="251.8" width="3.6" height="3.6"/><rect x="642.4" y="251.8" width="3.6" height="3.6"/><rect x="648.2" y="251.8" width="3.6" height="3.6"/><rect x="659.8" y="251.8" width="3.6" height="3.6"/><rect x="665.6" y="251.8" width="3.6" height="3.6"/><rect x="671.4" y="251.8" width="3.6" height="3.6"/><rect x="677.2" y="251.8" width="3.6" height="3.6"/><rect x="346.6" y="257.6" width="3.6" height="3.6"/><rect x="352.4" y="257.6" width="3.6" height="3.6"/><rect x="358.2" y="257.6" width="3.6" height="3.6"/><rect x="375.6" y="257.6" width="3.6" height="3.6"/><rect x="462.6" y="257.6" width="3.6" height="3.6"/><rect x="468.4" y="257.6" width="3.6" height="3.6"/><rect x="480.0" y="257.6" width="3.6" height="3.6"/><rect x="485.8" y="257.6" width="3.6" height="3.6"/><rect x="491.6" y="257.6" width="3.6" height="3.6"/><rect x="497.4" y="257.6" width="3.6" height="3.6"/><rect x="503.2" y="257.6" width="3.6" height="3.6"/><rect x="509.0" y="257.6" width="3.6" height="3.6"/><rect x="514.8" y="257.6" width="3.6" height="3.6"/><rect x="642.4" y="257.6" width="3.6" height="3.6"/><rect x="648.2" y="257.6" width="3.6" height="3.6"/><rect x="659.8" y="257.6" width="3.6" height="3.6"/><rect x="665.6" y="257.6" width="3.6" height="3.6"/><rect x="671.4" y="257.6" width="3.6" height="3.6"/><rect x="677.2" y="257.6" width="3.6" height="3.6"/><rect x="683.0" y="257.6" width="3.6" height="3.6"/><rect x="688.8" y="257.6" width="3.6" height="3.6"/><rect x="352.4" y="263.4" width="3.6" height="3.6"/><rect x="358.2" y="263.4" width="3.6" height="3.6"/><rect x="364.0" y="263.4" width="3.6" height="3.6"/><rect x="369.8" y="263.4" width="3.6" height="3.6"/><rect x="375.6" y="263.4" width="3.6" height="3.6"/><rect x="468.4" y="263.4" width="3.6" height="3.6"/><rect x="474.2" y="263.4" width="3.6" height="3.6"/><rect x="480.0" y="263.4" width="3.6" height="3.6"/><rect x="485.8" y="263.4" width="3.6" height="3.6"/><rect x="491.6" y="263.4" width="3.6" height="3.6"/><rect x="497.4" y="263.4" width="3.6" height="3.6"/><rect x="503.2" y="263.4" width="3.6" height="3.6"/><rect x="509.0" y="263.4" width="3.6" height="3.6"/><rect x="642.4" y="263.4" width="3.6" height="3.6"/><rect x="648.2" y="263.4" width="3.6" height="3.6"/><rect x="654.0" y="263.4" width="3.6" height="3.6"/><rect x="659.8" y="263.4" width="3.6" height="3.6"/><rect x="665.6" y="263.4" width="3.6" height="3.6"/><rect x="671.4" y="263.4" width="3.6" height="3.6"/><rect x="677.2" y="263.4" width="3.6" height="3.6"/><rect x="683.0" y="263.4" width="3.6" height="3.6"/><rect x="688.8" y="263.4" width="3.6" height="3.6"/><rect x="364.0" y="269.2" width="3.6" height="3.6"/><rect x="369.8" y="269.2" width="3.6" height="3.6"/><rect x="375.6" y="269.2" width="3.6" height="3.6"/><rect x="468.4" y="269.2" width="3.6" height="3.6"/><rect x="474.2" y="269.2" width="3.6" height="3.6"/><rect x="480.0" y="269.2" width="3.6" height="3.6"/><rect x="485.8" y="269.2" width="3.6" height="3.6"/><rect x="491.6" y="269.2" width="3.6" height="3.6"/><rect x="497.4" y="269.2" width="3.6" height="3.6"/><rect x="503.2" y="269.2" width="3.6" height="3.6"/><rect x="642.4" y="269.2" width="3.6" height="3.6"/><rect x="648.2" y="269.2" width="3.6" height="3.6"/><rect x="654.0" y="269.2" width="3.6" height="3.6"/><rect x="659.8" y="269.2" width="3.6" height="3.6"/><rect x="665.6" y="269.2" width="3.6" height="3.6"/><rect x="671.4" y="269.2" width="3.6" height="3.6"/><rect x="677.2" y="269.2" width="3.6" height="3.6"/><rect x="683.0" y="269.2" width="3.6" height="3.6"/><rect x="688.8" y="269.2" width="3.6" height="3.6"/><rect x="369.8" y="275.0" width="3.6" height="3.6"/><rect x="381.4" y="275.0" width="3.6" height="3.6"/><rect x="387.2" y="275.0" width="3.6" height="3.6"/><rect x="393.0" y="275.0" width="3.6" height="3.6"/><rect x="398.8" y="275.0" width="3.6" height="3.6"/><rect x="404.6" y="275.0" width="3.6" height="3.6"/><rect x="474.2" y="275.0" width="3.6" height="3.6"/><rect x="480.0" y="275.0" width="3.6" height="3.6"/><rect x="485.8" y="275.0" width="3.6" height="3.6"/><rect x="491.6" y="275.0" width="3.6" height="3.6"/><rect x="648.2" y="275.0" width="3.6" height="3.6"/><rect x="654.0" y="275.0" width="3.6" height="3.6"/><rect x="659.8" y="275.0" width="3.6" height="3.6"/><rect x="665.6" y="275.0" width="3.6" height="3.6"/><rect x="671.4" y="275.0" width="3.6" height="3.6"/><rect x="677.2" y="275.0" width="3.6" height="3.6"/><rect x="683.0" y="275.0" width="3.6" height="3.6"/><rect x="688.8" y="275.0" width="3.6" height="3.6"/><rect x="694.6" y="275.0" width="3.6" height="3.6"/><rect x="369.8" y="280.8" width="3.6" height="3.6"/><rect x="375.6" y="280.8" width="3.6" height="3.6"/><rect x="381.4" y="280.8" width="3.6" height="3.6"/><rect x="387.2" y="280.8" width="3.6" height="3.6"/><rect x="393.0" y="280.8" width="3.6" height="3.6"/><rect x="398.8" y="280.8" width="3.6" height="3.6"/><rect x="404.6" y="280.8" width="3.6" height="3.6"/><rect x="410.4" y="280.8" width="3.6" height="3.6"/><rect x="416.2" y="280.8" width="3.6" height="3.6"/><rect x="474.2" y="280.8" width="3.6" height="3.6"/><rect x="480.0" y="280.8" width="3.6" height="3.6"/><rect x="491.6" y="280.8" width="3.6" height="3.6"/><rect x="497.4" y="280.8" width="3.6" height="3.6"/><rect x="648.2" y="280.8" width="3.6" height="3.6"/><rect x="654.0" y="280.8" width="3.6" height="3.6"/><rect x="659.8" y="280.8" width="3.6" height="3.6"/><rect x="665.6" y="280.8" width="3.6" height="3.6"/><rect x="671.4" y="280.8" width="3.6" height="3.6"/><rect x="677.2" y="280.8" width="3.6" height="3.6"/><rect x="683.0" y="280.8" width="3.6" height="3.6"/><rect x="688.8" y="280.8" width="3.6" height="3.6"/><rect x="694.6" y="280.8" width="3.6" height="3.6"/><rect x="369.8" y="286.6" width="3.6" height="3.6"/><rect x="375.6" y="286.6" width="3.6" height="3.6"/><rect x="381.4" y="286.6" width="3.6" height="3.6"/><rect x="387.2" y="286.6" width="3.6" height="3.6"/><rect x="398.8" y="286.6" width="3.6" height="3.6"/><rect x="404.6" y="286.6" width="3.6" height="3.6"/><rect x="410.4" y="286.6" width="3.6" height="3.6"/><rect x="422.0" y="286.6" width="3.6" height="3.6"/><rect x="474.2" y="286.6" width="3.6" height="3.6"/><rect x="480.0" y="286.6" width="3.6" height="3.6"/><rect x="485.8" y="286.6" width="3.6" height="3.6"/><rect x="491.6" y="286.6" width="3.6" height="3.6"/><rect x="654.0" y="286.6" width="3.6" height="3.6"/><rect x="659.8" y="286.6" width="3.6" height="3.6"/><rect x="665.6" y="286.6" width="3.6" height="3.6"/><rect x="671.4" y="286.6" width="3.6" height="3.6"/><rect x="677.2" y="286.6" width="3.6" height="3.6"/><rect x="683.0" y="286.6" width="3.6" height="3.6"/><rect x="688.8" y="286.6" width="3.6" height="3.6"/><rect x="694.6" y="286.6" width="3.6" height="3.6"/><rect x="375.6" y="292.4" width="3.6" height="3.6"/><rect x="381.4" y="292.4" width="3.6" height="3.6"/><rect x="387.2" y="292.4" width="3.6" height="3.6"/><rect x="393.0" y="292.4" width="3.6" height="3.6"/><rect x="398.8" y="292.4" width="3.6" height="3.6"/><rect x="404.6" y="292.4" width="3.6" height="3.6"/><rect x="410.4" y="292.4" width="3.6" height="3.6"/><rect x="416.2" y="292.4" width="3.6" height="3.6"/><rect x="422.0" y="292.4" width="3.6" height="3.6"/><rect x="427.8" y="292.4" width="3.6" height="3.6"/><rect x="480.0" y="292.4" width="3.6" height="3.6"/><rect x="485.8" y="292.4" width="3.6" height="3.6"/><rect x="665.6" y="292.4" width="3.6" height="3.6"/><rect x="671.4" y="292.4" width="3.6" height="3.6"/><rect x="677.2" y="292.4" width="3.6" height="3.6"/><rect x="694.6" y="292.4" width="3.6" height="3.6"/><rect x="369.8" y="298.2" width="3.6" height="3.6"/><rect x="375.6" y="298.2" width="3.6" height="3.6"/><rect x="381.4" y="298.2" width="3.6" height="3.6"/><rect x="387.2" y="298.2" width="3.6" height="3.6"/><rect x="393.0" y="298.2" width="3.6" height="3.6"/><rect x="398.8" y="298.2" width="3.6" height="3.6"/><rect x="410.4" y="298.2" width="3.6" height="3.6"/><rect x="416.2" y="298.2" width="3.6" height="3.6"/><rect x="422.0" y="298.2" width="3.6" height="3.6"/><rect x="427.8" y="298.2" width="3.6" height="3.6"/><rect x="375.6" y="304.0" width="3.6" height="3.6"/><rect x="381.4" y="304.0" width="3.6" height="3.6"/><rect x="387.2" y="304.0" width="3.6" height="3.6"/><rect x="393.0" y="304.0" width="3.6" height="3.6"/><rect x="404.6" y="304.0" width="3.6" height="3.6"/><rect x="410.4" y="304.0" width="3.6" height="3.6"/><rect x="416.2" y="304.0" width="3.6" height="3.6"/><rect x="427.8" y="304.0" width="3.6" height="3.6"/><rect x="654.0" y="304.0" width="3.6" height="3.6"/><rect x="659.8" y="304.0" width="3.6" height="3.6"/><rect x="671.4" y="304.0" width="3.6" height="3.6"/><rect x="683.0" y="304.0" width="3.6" height="3.6"/><rect x="688.8" y="304.0" width="3.6" height="3.6"/><rect x="375.6" y="309.8" width="3.6" height="3.6"/><rect x="381.4" y="309.8" width="3.6" height="3.6"/><rect x="387.2" y="309.8" width="3.6" height="3.6"/><rect x="393.0" y="309.8" width="3.6" height="3.6"/><rect x="398.8" y="309.8" width="3.6" height="3.6"/><rect x="404.6" y="309.8" width="3.6" height="3.6"/><rect x="410.4" y="309.8" width="3.6" height="3.6"/><rect x="416.2" y="309.8" width="3.6" height="3.6"/><rect x="422.0" y="309.8" width="3.6" height="3.6"/><rect x="648.2" y="309.8" width="3.6" height="3.6"/><rect x="659.8" y="309.8" width="3.6" height="3.6"/><rect x="665.6" y="309.8" width="3.6" height="3.6"/><rect x="671.4" y="309.8" width="3.6" height="3.6"/><rect x="677.2" y="309.8" width="3.6" height="3.6"/><rect x="683.0" y="309.8" width="3.6" height="3.6"/><rect x="688.8" y="309.8" width="3.6" height="3.6"/><rect x="381.4" y="315.6" width="3.6" height="3.6"/><rect x="387.2" y="315.6" width="3.6" height="3.6"/><rect x="393.0" y="315.6" width="3.6" height="3.6"/><rect x="398.8" y="315.6" width="3.6" height="3.6"/><rect x="404.6" y="315.6" width="3.6" height="3.6"/><rect x="410.4" y="315.6" width="3.6" height="3.6"/><rect x="416.2" y="315.6" width="3.6" height="3.6"/><rect x="422.0" y="315.6" width="3.6" height="3.6"/><rect x="648.2" y="315.6" width="3.6" height="3.6"/><rect x="654.0" y="315.6" width="3.6" height="3.6"/><rect x="659.8" y="315.6" width="3.6" height="3.6"/><rect x="665.6" y="315.6" width="3.6" height="3.6"/><rect x="671.4" y="315.6" width="3.6" height="3.6"/><rect x="677.2" y="315.6" width="3.6" height="3.6"/><rect x="683.0" y="315.6" width="3.6" height="3.6"/><rect x="688.8" y="315.6" width="3.6" height="3.6"/><rect x="694.6" y="315.6" width="3.6" height="3.6"/><rect x="381.4" y="321.4" width="3.6" height="3.6"/><rect x="393.0" y="321.4" width="3.6" height="3.6"/><rect x="398.8" y="321.4" width="3.6" height="3.6"/><rect x="404.6" y="321.4" width="3.6" height="3.6"/><rect x="410.4" y="321.4" width="3.6" height="3.6"/><rect x="422.0" y="321.4" width="3.6" height="3.6"/><rect x="648.2" y="321.4" width="3.6" height="3.6"/><rect x="654.0" y="321.4" width="3.6" height="3.6"/><rect x="665.6" y="321.4" width="3.6" height="3.6"/><rect x="671.4" y="321.4" width="3.6" height="3.6"/><rect x="677.2" y="321.4" width="3.6" height="3.6"/><rect x="683.0" y="321.4" width="3.6" height="3.6"/><rect x="688.8" y="321.4" width="3.6" height="3.6"/><rect x="387.2" y="327.2" width="3.6" height="3.6"/><rect x="404.6" y="327.2" width="3.6" height="3.6"/><rect x="410.4" y="327.2" width="3.6" height="3.6"/><rect x="416.2" y="327.2" width="3.6" height="3.6"/><rect x="648.2" y="327.2" width="3.6" height="3.6"/><rect x="654.0" y="327.2" width="3.6" height="3.6"/><rect x="659.8" y="327.2" width="3.6" height="3.6"/><rect x="665.6" y="327.2" width="3.6" height="3.6"/><rect x="671.4" y="327.2" width="3.6" height="3.6"/><rect x="677.2" y="327.2" width="3.6" height="3.6"/><rect x="683.0" y="327.2" width="3.6" height="3.6"/><rect x="688.8" y="327.2" width="3.6" height="3.6"/><rect x="694.6" y="327.2" width="3.6" height="3.6"/><rect x="387.2" y="333.0" width="3.6" height="3.6"/><rect x="393.0" y="333.0" width="3.6" height="3.6"/><rect x="398.8" y="333.0" width="3.6" height="3.6"/><rect x="410.4" y="333.0" width="3.6" height="3.6"/><rect x="665.6" y="333.0" width="3.6" height="3.6"/><rect x="671.4" y="333.0" width="3.6" height="3.6"/><rect x="677.2" y="333.0" width="3.6" height="3.6"/><rect x="387.2" y="338.8" width="3.6" height="3.6"/><rect x="393.0" y="338.8" width="3.6" height="3.6"/><rect x="398.8" y="338.8" width="3.6" height="3.6"/><rect x="404.6" y="338.8" width="3.6" height="3.6"/><rect x="387.2" y="344.6" width="3.6" height="3.6"/><rect x="393.0" y="344.6" width="3.6" height="3.6"/><rect x="398.8" y="344.6" width="3.6" height="3.6"/><rect x="404.6" y="344.6" width="3.6" height="3.6"/><rect x="387.2" y="350.4" width="3.6" height="3.6"/><rect x="398.8" y="350.4" width="3.6" height="3.6"/></g></svg>
  <div class="stat" style="left:446.6px"><b>367.00W</b><span>AC Power</span></div>
  <div class="stat" style="left:532.2px"><b>12.50 kWh</b><span>Daily Yield</span></div>
  <div class="stat" style="left:616.6px"><b>22.52 MWh</b><span>Total Yield</span></div>

  <div class="abs" style="left:425.5px;top:106.5px;width:99px;height:47px;border:1px dotted #cfcfcf;box-sizing:border-box"></div>
  <div class="abs" style="left:429px;top:102.5px;background:#fff;padding:0 1.5px;font-size:6px;line-height:8px;font-weight:bold;color:#f0883a">Inverter</div>
  <div class="row" style="top:113px">AC Voltage</div><div class="vb" style="top:113px"><em>238.3</em><i>V</i></div>
  <div class="row" style="top:126.5px">AC Current</div><div class="vb" style="top:126.5px"><em>1.6</em><i>A</i></div>
  <div class="row" style="top:140px">AC Power</div><div class="vb" style="top:140px"><em>367</em><i>W</i></div>

  <svg class="abs" style="left:0;top:0" width="837" height="675" viewBox="0 0 837 675">
    <defs>
      <linearGradient id="kg" x1="0" y1="0" x2="0" y2="1"><stop offset="0" stop-color="#f1f1f1"/><stop offset="1" stop-color="#e9e9e9"/></linearGradient>
      <linearGradient id="kr" x1="0" y1="0" x2="0" y2="1"><stop offset="0" stop-color="#e4e4e4"/><stop offset="0.55" stop-color="#d6d6d6"/><stop offset="1" stop-color="#8e8e8e"/></linearGradient>
      <g id="knob"><circle r="23.7" fill="#fff" stroke="#adadad" stroke-width="0.8"/><circle r="16.9" cy="0.5" fill="url(#kr)"/><circle r="16.1" cy="-0.1" fill="url(#kg)"/></g>
    </defs>
    <line x1="475" y1="154" x2="475" y2="173" stroke="#cfcfcf" stroke-width="1" stroke-dasharray="1.5,1.5"/>
    <line x1="300" y1="198.4" x2="319" y2="198.4" stroke="#cfcfcf" stroke-width="1" stroke-dasharray="1.5,1.5"/>
    <g stroke="#d4d4d4" stroke-width="7.2" stroke-linecap="round" fill="none">
      <line x1="382.2" y1="199.4" x2="440.4" y2="199.4"/>
      <line x1="516.6" y1="199.4" x2="633" y2="199.4"/>
      <line x1="576" y1="201" x2="603.6" y2="249.6"/>
    </g>
    <g fill="#f28a2e" stroke="#f28a2e" stroke-width="0.3"><path transform="translate(385.4,199.4) rotate(0.0)" d="M-1.5,-1.9 L1.3,0 L-1.5,1.9 L-0.5,0z"/><path transform="translate(391.9,199.4) rotate(0.0)" d="M-1.5,-1.9 L1.3,0 L-1.5,1.9 L-0.5,0z"/><path transform="translate(398.4,199.4) rotate(0.0)" d="M-1.5,-1.9 L1.3,0 L-1.5,1.9 L-0.5,0z"/><path transform="translate(404.9,199.4) rotate(0.0)" d="M-1.5,-1.9 L1.3,0 L-1.5,1.9 L-0.5,0z"/><path transform="translate(411.4,199.4) rotate(0.0)" d="M-1.5,-1.9 L1.3,0 L-1.5,1.9 L-0.5,0z"/><path transform="translate(417.9,199.4) rotate(0.0)" d="M-1.5,-1.9 L1.3,0 L-1.5,1.9 L-0.5,0z"/><path transform="translate(424.4,199.4) rotate(0.0)" d="M-1.5,-1.9 L1.3,0 L-1.5,1.9 L-0.5,0z"/><path transform="translate(430.9,199.4) rotate(0.0)" d="M-1.5,-1.9 L1.3,0 L-1.5,1.9 L-0.5,0z"/><path transform="translate(437.4,199.4) rotate(0.0)" d="M-1.5,-1.9 L1.3,0 L-1.5,1.9 L-0.5,0z"/><path transform="translate(519.2,199.4) rotate(0.0)" d="M-1.5,-1.9 L1.3,0 L-1.5,1.9 L-0.5,0z"/><path transform="translate(525.8,199.4) rotate(0.0)" d="M-1.5,-1.9 L1.3,0 L-1.5,1.9 L-0.5,0z"/><path transform="translate(532.2,199.4) rotate(0.0)" d="M-1.5,-1.9 L1.3,0 L-1.5,1.9 L-0.5,0z"/><path transform="translate(538.8,199.4) rotate(0.0)" d="M-1.5,-1.9 L1.3,0 L-1.5,1.9 L-0.5,0z"/><path transform="translate(545.2,199.4) rotate(0.0)" d="M-1.5,-1.9 L1.3,0 L-1.5,1.9 L-0.5,0z"/><path transform="translate(551.8,199.4) rotate(0.0)" d="M-1.5,-1.9 L1.3,0 L-1.5,1.9 L-0.5,0z"/><path transform="translate(558.2,199.4) rotate(0.0)" d="M-1.5,-1.9 L1.3,0 L-1.5,1.9 L-0.5,0z"/><path transform="translate(564.8,199.4) rotate(0.0)" d="M-1.5,-1.9 L1.3,0 L-1.5,1.9 L-0.5,0z"/><path transform="translate(571.2,199.4) rotate(0.0)" d="M-1.5,-1.9 L1.3,0 L-1.5,1.9 L-0.5,0z"/><path transform="translate(577.8,199.4) rotate(0.0)" d="M-1.5,-1.9 L1.3,0 L-1.5,1.9 L-0.5,0z"/><path transform="translate(584.2,199.4) rotate(0.0)" d="M-1.5,-1.9 L1.3,0 L-1.5,1.9 L-0.5,0z"/><path transform="translate(590.8,199.4) rotate(0.0)" d="M-1.5,-1.9 L1.3,0 L-1.5,1.9 L-0.5,0z"/><path transform="translate(597.2,199.4) rotate(0.0)" d="M-1.5,-1.9 L1.3,0 L-1.5,1.9 L-0.5,0z"/><path transform="translate(603.8,199.4) rotate(0.0)" d="M-1.5,-1.9 L1.3,0 L-1.5,1.9 L-0.5,0z"/><path transform="translate(610.2,199.4) rotate(0.0)" d="M-1.5,-1.9 L1.3,0 L-1.5,1.9 L-0.5,0z"/><path transform="translate(616.8,199.4) rotate(0.0)" d="M-1.5,-1.9 L1.3,0 L-1.5,1.9 L-0.5,0z"/><path transform="translate(623.2,199.4) rotate(0.0)" d="M-1.5,-1.9 L1.3,0 L-1.5,1.9 L-0.5,0z"/><path transform="translate(629.8,199.4) rotate(0.0)" d="M-1.5,-1.9 L1.3,0 L-1.5,1.9 L-0.5,0z"/><path transform="translate(580.0,206.5) rotate(61.4)" d="M-1.5,-1.9 L1.3,0 L-1.5,1.9 L-0.5,0z"/><path transform="translate(583.1,212.2) rotate(61.4)" d="M-1.5,-1.9 L1.3,0 L-1.5,1.9 L-0.5,0z"/><path transform="translate(586.2,217.9) rotate(61.4)" d="M-1.5,-1.9 L1.3,0 L-1.5,1.9 L-0.5,0z"/><path transform="translate(589.3,223.6) rotate(61.4)" d="M-1.5,-1.9 L1.3,0 L-1.5,1.9 L-0.5,0z"/><path transform="translate(592.5,229.4) rotate(61.4)" d="M-1.5,-1.9 L1.3,0 L-1.5,1.9 L-0.5,0z"/><path transform="translate(595.6,235.1) rotate(61.4)" d="M-1.5,-1.9 L1.3,0 L-1.5,1.9 L-0.5,0z"/><path transform="translate(598.7,240.8) rotate(61.4)" d="M-1.5,-1.9 L1.3,0 L-1.5,1.9 L-0.5,0z"/><path transform="translate(601.8,246.5) rotate(61.4)" d="M-1.5,-1.9 L1.3,0 L-1.5,1.9 L-0.5,0z"/></g>
    <g id="nodes">
      <g transform="translate(344.1,196.9)"><use href="#knob"/>
        <path d="M-6,-5.4 Q-6,-6.2 -5.2,-6.2 H5.2 Q6,-6.2 6,-5.4 L7.8,1.4 Q8,2.4 7,2.4 H-7 Q-8,2.4 -7.8,1.4z" fill="#505050"/>
        <g stroke="#cfcfcf" stroke-width="0.55" fill="none"><path d="M-7.2,-1.9 H7.2 M-3.2,-6 L-3.9,2.2 M3.2,-6 L3.9,2.2"/></g>
        <path d="M0,-6.2 V2.4" stroke="#f2f2f2" stroke-width="1"/>
        <rect x="-0.6" y="2.4" width="1.2" height="2.6" fill="#505050"/><rect x="-3.2" y="4.9" width="6.4" height="1.1" fill="#505050"/>
      </g>
      <g transform="translate(478,196.8)"><use href="#knob"/>
        <path d="M-8.1,-10.6 L4.2,-12.5 L3.9,10.2 L-9,8z" fill="#f8f8f8" stroke="#8c8c8c" stroke-width="0.7" stroke-linejoin="round"/>
        <path d="M4.2,-12.5 L8.4,-10.4 L7.8,8.4 L3.9,10.2z" fill="#fbfbfb" stroke="#9a9a9a" stroke-width="0.6" stroke-linejoin="round"/>
        <path d="M-8.2,3.6 L0.6,4.6 L0.5,8.9 L-8.7,7.6z" fill="#6a6a6a"/>
        <path d="M-6,-6.3 L1.5,-6.9" stroke="#777" stroke-width="0.8"/>
        <path d="M6.9,-9 L6.6,-4.6" stroke="#666" stroke-width="1.3"/><path d="M6,0.8 L5.8,4" stroke="#555" stroke-width="1.5"/>
      </g>
      <g transform="translate(669.8,196.8)"><use href="#knob"/>
        <g fill="#555">
          <path d="M-2.2,-9.4 H2 L2.6,-7.8 H-2.8z"/>
          <path d="M-4.6,-7.8 H4.6 L5.6,-6 H-5.6z"/>
          <path d="M-6.8,-3.4 L-5.6,-2.2 L-6.8,-0.8 H6.8 L5.6,-2.2 L6.8,-3.4z"/>
          <path d="M-6.4,4.6 H6.6 V6.4 H-6.4z"/>
        </g>
        <g stroke="#555" stroke-width="1.2" fill="none"><path d="M-2,-6 L-3.9,4.8 M2,-6 L3.9,4.8 M-2.4,-4.4 H2.4 M-3.2,1.4 H3.2 M-2.8,1.6 L3,4.2"/></g>
      </g>
      <g transform="translate(612.8,281)"><use href="#knob"/>
        <path d="M-8.1,-0.6 L0,-7.6 L8.1,-0.6" fill="none" stroke="#555" stroke-width="1.9"/>
        <path d="M-5.8,0.2 L0,-4.8 L5.8,0.2 V6.4 H1.8 V2.4 H-1.8 V6.4 H-5.8z" fill="#555"/>
      </g>
    </g>
    <circle cx="666.3" cy="251.7" r="5.6" fill="#f08519"/>
    <rect x="665.6" y="248.3" width="1.4" height="4.4" rx="0.5" fill="#fff"/><rect x="665.6" y="253.7" width="1.4" height="1.5" rx="0.5" fill="#fff"/>
  </svg>

  <div class="abs" style="left:0;top:354.5px;width:837px;height:233px;background:#efefef"></div>
  <div class="abs" style="left:100px;top:364.5px;width:399.5px;height:171px;background:#fff;box-shadow:0 0 1.5px rgba(0,0,0,.18)"></div>
  <div class="abs" style="left:509px;top:364.5px;width:340px;height:171px;background:#fff;box-shadow:0 0 1.5px rgba(0,0,0,.18)"></div>
  <svg class="abs" style="left:0;top:0;font-family:'Liberation Sans',Arial,sans-serif" width="837" height="675" viewBox="0 0 837 675">
    <line x1="100" y1="385.2" x2="499" y2="385.2" stroke="#cfcfcf" stroke-width="0.8" stroke-dasharray="1.8,1.6"/>
    <line x1="510" y1="385.2" x2="837" y2="385.2" stroke="#cfcfcf" stroke-width="0.8" stroke-dasharray="1.8,1.6"/>
    <path d="M396.6,372.4 L394.2,375 L396.6,377.6" fill="none" stroke="#333" stroke-width="1.1"/>
    <path d="M486.5,372 L489,375 L486.5,378" fill="none" stroke="#c4c4c4" stroke-width="1"/>
    <rect x="404.5" y="369.5" width="74" height="13" fill="#fff" stroke="#e2e2e2" stroke-width="0.8" rx="1"/>
    <rect x="410.6" y="372.8" width="4.6" height="4.6" fill="#ececec" stroke="#dadada" stroke-width="0.6"/>
    <text x="419.8" y="377.7" font-size="5.95" fill="#555">2023-04-13</text>
    <g stroke="#e8e8e8" stroke-width="0.7">
      <line x1="300" y1="410" x2="480" y2="410"/><line x1="300" y1="426.4" x2="480" y2="426.4"/><line x1="300" y1="442" x2="480" y2="442"/><line x1="300" y1="458" x2="480" y2="458"/><line x1="300" y1="473.8" x2="480" y2="473.8"/><line x1="300" y1="489.8" x2="480" y2="489.8"/>
    </g>
    <polygon points="296.0,419.5 304.2,419.7 309.0,414.9 312.0,416.7 320.3,415.5 324.0,416.2 329.9,414.9 332.3,417.9 334.6,420.9 336.4,419.1 339.4,420.9 343.6,416.7 347.8,419.7 352.6,423.3 355.6,420.9 358.5,422.7 361.5,420.3 364.5,423.3 371.7,423.9 373.5,427.5 375.5,435.2 378.3,428.7 383.6,429.9 389.0,431.0 392.0,435.2 397.8,437.1 404.3,441.7 410.8,445.0 414.1,449.2 416.7,446.9 419.0,454.1 422.2,465.5 428.7,468.7 431.0,476.2 433.6,466.5 436.9,467.8 441.8,467.1 445.0,472.0 448.3,480.2 453.2,485.0 458.1,489.3 463.0,489.3 467.9,492.5 472.8,495.8 477.6,493.2 478.3,505.6 296,505.6" fill="#ecd98a"/>
    <polyline points="296.0,419.5 304.2,419.7 309.0,414.9 312.0,416.7 320.3,415.5 324.0,416.2 329.9,414.9 332.3,417.9 334.6,420.9 336.4,419.1 339.4,420.9 343.6,416.7 347.8,419.7 352.6,423.3 355.6,420.9 358.5,422.7 361.5,420.3 364.5,423.3 371.7,423.9 373.5,427.5 375.5,435.2 378.3,428.7 383.6,429.9 389.0,431.0 392.0,435.2 397.8,437.1 404.3,441.7 410.8,445.0 414.1,449.2 416.7,446.9 419.0,454.1 422.2,465.5 428.7,468.7 431.0,476.2 433.6,466.5 436.9,467.8 441.8,467.1 445.0,472.0 448.3,480.2 453.2,485.0 458.1,489.3 463.0,489.3 467.9,492.5 472.8,495.8 477.6,493.2" fill="none" stroke="#f0cd62" stroke-width="1" stroke-linejoin="round"/>
    <polygon points="296.0,421.0 304.2,421.2 309.0,416.4 312.0,418.2 320.3,417.0 324.0,417.7 329.9,416.4 332.3,419.4 334.6,422.4 336.4,420.6 339.4,422.4 343.6,418.2 347.8,421.2 352.6,424.8 355.6,422.4 358.5,424.2 361.5,421.8 364.5,424.8 371.7,425.4 373.5,428.5 375.5,436.2 378.3,429.7 383.6,430.9 389.0,432.0 392.0,436.2 397.8,438.1 404.3,442.3 410.8,445.6 414.1,449.8 416.7,447.5 419.0,454.7 422.2,466.1 428.7,469.3 431.0,476.5 433.6,466.8 436.9,468.1 441.8,467.4 445.0,472.3 448.3,480.5 453.2,485.3 458.1,489.6 463.0,489.6 467.9,492.8 472.8,496.1 477.6,493.5 478.3,505.6 296,505.6" fill="#c9d886"/>
    <polyline points="296.0,421.0 304.2,421.2 309.0,416.4 312.0,418.2 320.3,417.0 324.0,417.7 329.9,416.4 332.3,419.4 334.6,422.4 336.4,420.6 339.4,422.4 343.6,418.2 347.8,421.2 352.6,424.8 355.6,422.4 358.5,424.2 361.5,421.8 364.5,424.8 371.7,425.4 373.5,428.5 375.5,436.2 378.3,429.7 383.6,430.9 389.0,432.0 392.0,436.2 397.8,438.1 404.3,442.3 410.8,445.6 414.1,449.8 416.7,447.5 419.0,454.7 422.2,466.1 428.7,469.3 431.0,476.5 433.6,466.8 436.9,468.1 441.8,467.4 445.0,472.3 448.3,480.5 453.2,485.3 458.1,489.6 463.0,489.6 467.9,492.8 472.8,496.1 477.6,493.5" fill="none" stroke="#a3c353" stroke-width="0.8" stroke-linejoin="round"/>
    <g stroke="#d9e2a8" stroke-width="0.6" opacity="0.8">
      <line x1="300" y1="426.4" x2="380" y2="426.4"/><line x1="300" y1="442" x2="405" y2="442"/><line x1="300" y1="458" x2="420" y2="458"/><line x1="300" y1="473.8" x2="445" y2="473.8"/><line x1="300" y1="489.8" x2="458" y2="489.8"/>
    </g>
    <line x1="300" y1="505.7" x2="480" y2="505.7" stroke="#bdbdbd" stroke-width="0.8"/>
    <g font-size="5.6" fill="#444" text-anchor="middle">
      <text x="309" y="513.5">11:21</text><text x="331" y="513.5">12:01</text><text x="353.2" y="513.5">12:41</text><text x="375.4" y="513.5">13:21</text><text x="397.6" y="513.5">14:01</text><text x="419.8" y="513.5">14:41</text><text x="442" y="513.5">15:21</text><text x="464.2" y="513.5">16:01</text>
    </g>
    <rect x="479.2" y="506" width="0.9" height="2" fill="#777"/>

    <text x="514.5" y="377.2" font-size="6.6" fill="#222">Energy Diagram</text>
    <text x="521.2" y="401.8" font-size="6.9" fill="#858585">kWh</text>
    <g stroke="#e8e8e8" stroke-width="0.7">
      <line x1="530" y1="410.4" x2="837" y2="410.4"/><line x1="530" y1="429.9" x2="837" y2="429.9"/><line x1="530" y1="448.5" x2="837" y2="448.5"/><line x1="530" y1="467.6" x2="837" y2="467.6"/><line x1="530" y1="486.7" x2="837" y2="486.7"/>
    </g>
    <line x1="530" y1="505.8" x2="837" y2="505.8" stroke="#dcdcdc" stroke-width="0.8"/>
    <g font-size="5.6" fill="#444" text-anchor="end">
      <text x="524.5" y="412.5">15</text><text x="524.5" y="431.5">12</text><text x="524.5" y="450.5">9</text><text x="524.5" y="469.6">6</text><text x="524.5" y="488.7">3</text><text x="524.5" y="507.6">0</text>
    </g>
    <g fill="#6ba41c"><rect x="532.2" y="425.7" width="10" height="80.1"/><rect x="550.6" y="425.7" width="10" height="80.1"/><rect x="568.9" y="425.7" width="10" height="80.1"/><rect x="587.2" y="425.7" width="10" height="80.1"/><rect x="605.6" y="425.7" width="10" height="80.1"/><rect x="624.0" y="425.7" width="10" height="80.1"/><rect x="642.3" y="425.7" width="10" height="80.1"/><rect x="660.7" y="425.7" width="10" height="80.1"/><rect x="679.0" y="425.7" width="10" height="80.1"/><rect x="697.4" y="425.7" width="10" height="80.1"/><rect x="715.7" y="425.7" width="10" height="80.1"/><rect x="734.1" y="425.7" width="10" height="80.1"/><rect x="752.4" y="426.5" width="10" height="79.3"/></g>
    <g font-size="5.6" fill="#444"><text x="537.2" y="514.5" text-anchor="middle">1</text><text x="555.6" y="514.5" text-anchor="middle">2</text><text x="573.9" y="514.5" text-anchor="middle">3</text><text x="592.2" y="514.5" text-anchor="middle">4</text><text x="610.6" y="514.5" text-anchor="middle">5</text><text x="629.0" y="514.5" text-anchor="middle">6</text><text x="647.3" y="514.5" text-anchor="middle">7</text><text x="665.7" y="514.5" text-anchor="middle">8</text><text x="684.0" y="514.5" text-anchor="middle">9</text><text x="702.4" y="514.5" text-anchor="middle">10</text><text x="720.7" y="514.5" text-anchor="middle">11</text><text x="739.1" y="514.5" text-anchor="middle">12</text><text x="757.4" y="514.5" text-anchor="middle">13</text><text x="775.8" y="514.5" text-anchor="middle">14</text><text x="794.1" y="514.5" text-anchor="middle">15</text><text x="812.5" y="514.5" text-anchor="middle">16</text></g>
    <rect x="797" y="526.3" width="12.2" height="6.2" rx="1" fill="#6ba41c"/>
    <text x="811.5" y="531.8" font-size="5.6" fill="#444">Yield</text>
  </svg>
  <div class="abs" style="left:304px;top:0;width:16px;height:675px;background:linear-gradient(to right,rgba(0,0,0,.02),rgba(0,0,0,0))"></div>
</div></div>

<div id="phone"><div class="in">
  <div class="abs" style="left:0;top:0;width:320px;height:73px;background:#3d3e50"></div>
  <div class="abs" style="left:48px;top:12.5px;font-size:13px;line-height:16px;font-weight:normal;-webkit-text-stroke:0.35px #fff;color:#fff;letter-spacing:0.15px">16:30</div>
  <svg class="abs" style="left:0;top:0" width="320" height="80" viewBox="0 0 320 80">
    <g fill="#fff">
      <rect x="220.8" y="18" width="3.1" height="3.2" rx="0.8"/><rect x="220.8" y="22.6" width="3.1" height="3.1" rx="0.8"/>
      <rect x="225" y="17.2" width="3.1" height="4" rx="0.8"/><rect x="225" y="22.6" width="3.1" height="3.1" rx="0.8"/>
      <rect x="229.2" y="15.8" width="3.1" height="5.4" rx="0.8"/><rect x="229.2" y="22.6" width="3.1" height="3.1" rx="0.8"/>
      <rect x="233.4" y="14.3" width="3.1" height="6.9" rx="0.8"/><rect x="233.4" y="22.6" width="3.1" height="3.1" rx="0.8"/>
    </g>
    <g fill="none" stroke="#fff" stroke-width="1.9" stroke-linecap="butt">
      <path d="M242.6,18.6 A8.6,8.6 0 0 1 254.6,18.6"/>
      <path d="M245,21.2 A5.2,5.2 0 0 1 252.2,21.2"/>
    </g>
    <path d="M246.9,23.2 A2.6,2.6 0 0 1 250.3,23.2 L248.6,25.2z" fill="#fff"/>
    <rect x="260.3" y="15" width="19.4" height="10.6" rx="3" fill="#34b556"/>
    <rect x="280.2" y="18.6" width="1.2" height="3.6" rx="0.6" fill="#7c8a86"/>
    <text x="262" y="24.2" font-size="10.4" font-weight="bold" fill="#fff" font-family="'Liberation Sans',Arial,sans-serif" letter-spacing="-0.3">93</text>
    <path d="M277.8,15.8 L274.6,20.8 H276.6 L275.8,24.9 L279.2,19.6 H277.2z" fill="#fff"/>
    <path d="M27.4,53.4 L23.2,57.6 L27.4,61.8" fill="none" stroke="#fff" stroke-width="1.3"/>
  </svg>
  <div class="abs" style="left:9.5px;top:49.8px;width:296px;text-align:center;font-size:10.6px;line-height:14px;color:#fff;">TESTHYBRID0001</div>

  <div class="card" style="left:13.5px;top:81px;width:288.5px;height:219.5px"></div>
  <div class="card" style="left:13.5px;top:308px;width:288.5px;height:232px"></div>

  <svg class="abs" style="left:0;top:0;font-family:'Liberation Sans',Arial,sans-serif" width="320" height="675" viewBox="0 0 320 675">
    <!-- legend 1 -->
    <line x1="63" y1="99.2" x2="81.2" y2="99.2" stroke="#f2c14a" stroke-width="1"/><circle cx="72" cy="99.2" r="4.2" fill="#f3b21b"/>
    <text x="84.8" y="102.2" font-size="8.4" fill="#333">PV Power (W)</text>
    <line x1="145.3" y1="99.2" x2="163.5" y2="99.2" stroke="#8cc152" stroke-width="1"/><circle cx="154.4" cy="99.2" r="4.2" fill="#6aaf2c"/>
    <text x="167" y="102.2" font-size="8.4" fill="#333">AC Power(On-grid) (W)</text>
    <line x1="63" y1="114.7" x2="81.2" y2="114.7" stroke="#d09a76" stroke-width="1"/><circle cx="72" cy="114.7" r="4.2" fill="#b9744a"/>
    <text x="84.8" y="117.7" font-size="8.4" fill="#333">EPS Power(Off-grid) (W)</text>
    <g stroke="#d5d5d5" stroke-width="0.9" stroke-dasharray="1.2,1.8">
      <line x1="47.6" y1="139.3" x2="289" y2="139.3"/><line x1="47.6" y1="166.2" x2="289" y2="166.2"/><line x1="47.6" y1="193.1" x2="289" y2="193.1"/><line x1="47.6" y1="220" x2="289" y2="220"/><line x1="47.6" y1="246.9" x2="289" y2="246.9"/>
    </g>
    <g font-size="8.5" fill="#6e6e6e" text-anchor="end">
      <text x="42" y="142">5,000</text><text x="42" y="169">4,000</text><text x="42" y="196">3,000</text><text x="42" y="222.9">2,000</text><text x="42" y="249.8">1,000</text><text x="42" y="276">0</text>
    </g>
    <polyline points="243.0,273.0 253.7,272.0 266.3,267.3 271.6,254.0 274.5,246.9 275.9,218.2 277.0,202.1 280.6,184.1 286.0,168.0 288.9,160.1" fill="none" stroke="#f0b71f" stroke-width="1.4" stroke-linejoin="round"/>
    <polyline points="47.6,264.1 49.4,266.6 51.2,263.0 53.0,264.8 56.6,259.8 59.5,263.4 63.0,263.0 65.6,264.1 68.4,258.3 71.6,265.9 74.5,264.1 76.3,266.6 78.1,263.0 80.6,264.8 85.3,262.3 90.6,260.5 94.2,261.9 97.8,265.5 101.4,261.9 105.0,264.8 108.6,263.0 112.2,263.7 115.7,262.3 119.3,262.3 122.2,261.2 124.7,265.9 128.3,264.1 131.9,261.9 134.7,265.9 138.3,264.8 140.8,262.3 144.4,260.5 146.6,263.0 147.6,273.0" fill="none" stroke="#62b01f" stroke-width="1.3" stroke-linejoin="round"/>
    <polyline points="243.0,272.7 248.4,272.0 250.9,270.5 255.5,270.2 259.1,268.4 266.3,266.6 268.8,255.8 273.4,252.6 274.5,257.6 277.0,264.8 280.6,261.2 285.3,258.3 287.8,260.5" fill="none" stroke="#62b01f" stroke-width="1.3" stroke-linejoin="round"/>
    <line x1="47.6" y1="273.1" x2="289" y2="273.1" stroke="#a8683f" stroke-width="1.3"/>
    <g font-size="8.3" fill="#6e6e6e" text-anchor="middle">
      <text x="47.6" y="285.3">00:00</text><text x="76.5" y="285.3">01:15</text><text x="105.5" y="285.3">02:30</text><text x="134.4" y="285.3">03:45</text><text x="163.3" y="285.3">05:00</text><text x="192.2" y="285.3">06:15</text><text x="221.2" y="285.3">07:30</text><text x="250.1" y="285.3">08:45</text><text x="279.0" y="285.3">10:00</text>
    </g>
    <!-- card 2 -->
    <g stroke="#e6e6e6" stroke-width="0.8" stroke-dasharray="1.2,1.8">
      <line x1="36" y1="359.1" x2="297" y2="359.1"/><line x1="36" y1="384.4" x2="297" y2="384.4"/><line x1="36" y1="409.8" x2="297" y2="409.8"/><line x1="36" y1="435.1" x2="297" y2="435.1"/><line x1="36" y1="460.4" x2="297" y2="460.4"/>
    </g>
    <g font-size="8.4" fill="#6e6e6e" text-anchor="end">
      <text x="30.5" y="362">50</text><text x="30.5" y="387.3">40</text><text x="30.5" y="412.7">30</text><text x="30.5" y="438">20</text><text x="30.5" y="463.3">10</text><text x="30.5" y="488.6">0</text>
    </g>
    <g fill="#69a71e"><rect x="37.2" y="380.9" width="8.6" height="104.8"/><rect x="48.0" y="417.8" width="8.6" height="67.9"/><rect x="58.8" y="435.6" width="8.6" height="50.1"/><rect x="69.6" y="468.0" width="8.6" height="17.7"/><rect x="80.4" y="470.8" width="8.6" height="14.9"/><rect x="91.2" y="438.6" width="8.6" height="47.1"/><rect x="102.0" y="438.6" width="8.6" height="47.1"/><rect x="112.8" y="393.5" width="8.6" height="92.2"/><rect x="123.6" y="393.5" width="8.6" height="92.2"/><rect x="134.4" y="393.5" width="8.6" height="92.2"/><rect x="145.2" y="393.5" width="8.6" height="92.2"/><rect x="156.0" y="393.5" width="8.6" height="92.2"/><rect x="166.8" y="393.5" width="8.6" height="92.2"/><rect x="177.6" y="393.5" width="8.6" height="92.2"/><rect x="188.4" y="393.5" width="8.6" height="92.2"/><rect x="199.2" y="393.5" width="8.6" height="92.2"/><rect x="210.0" y="393.5" width="8.6" height="92.2"/><rect x="220.8" y="393.5" width="8.6" height="92.2"/><rect x="231.6" y="429.5" width="8.6" height="56.2"/><rect x="242.4" y="377.3" width="8.6" height="108.4"/><rect x="253.2" y="384.4" width="8.6" height="101.3"/><rect x="264.0" y="441.1" width="8.6" height="44.6"/><rect x="274.8" y="449.7" width="8.6" height="36.0"/><rect x="285.6" y="480.6" width="8.6" height="5.1"/></g>
    <g font-size="8" fill="#6e6e6e" text-anchor="middle">
      <text x="41.6" y="498.8">1</text><text x="63.1" y="498.8">3</text><text x="84.6" y="498.8">5</text><text x="106" y="498.8">6</text><text x="127.5" y="498.8">7</text><text x="149" y="498.8">7</text><text x="170.6" y="498.8">7</text><text x="192.3" y="498.8">7</text><text x="213.9" y="498.8">7</text><text x="235.4" y="498.8">8</text><text x="257.3" y="498.8">10</text><text x="278.6" y="498.8">12</text>
    </g>
    <rect x="69.9" y="522" width="16.6" height="9.2" rx="2" fill="#69a71e"/>
    <text x="90.6" y="529.6" font-size="8.3" fill="#333">Feed-in Energy</text>
    <rect x="155.1" y="522" width="16.6" height="9.2" rx="2" fill="#c17d58"/>
    <text x="175.9" y="529.6" font-size="8.3" fill="#333">Off-grid(EPS) Yield</text>
    <rect x="105" y="640.8" width="107" height="4" rx="2" fill="#000"/>
  </svg>
  <div class="pill" style="left:21.5px;top:316.5px;width:49px"><span style="margin-left:6.6px">Month</span><svg style="position:absolute;left:38.8px;top:7px" width="8" height="5" viewBox="0 0 8 5"><path d="M0.6,0.8 L4,4 L7.4,0.8" fill="none" stroke="#555" stroke-width="0.9"/></svg></div>
  <div class="pill" style="left:79.5px;top:316.5px;width:56px"><span style="margin-left:6.6px">2023/04</span><svg style="position:absolute;left:46.6px;top:7px" width="8" height="5" viewBox="0 0 8 5"><path d="M0.6,0.8 L4,4 L7.4,0.8" fill="none" stroke="#555" stroke-width="0.9"/></svg></div>
</div></div>

</body></html>
